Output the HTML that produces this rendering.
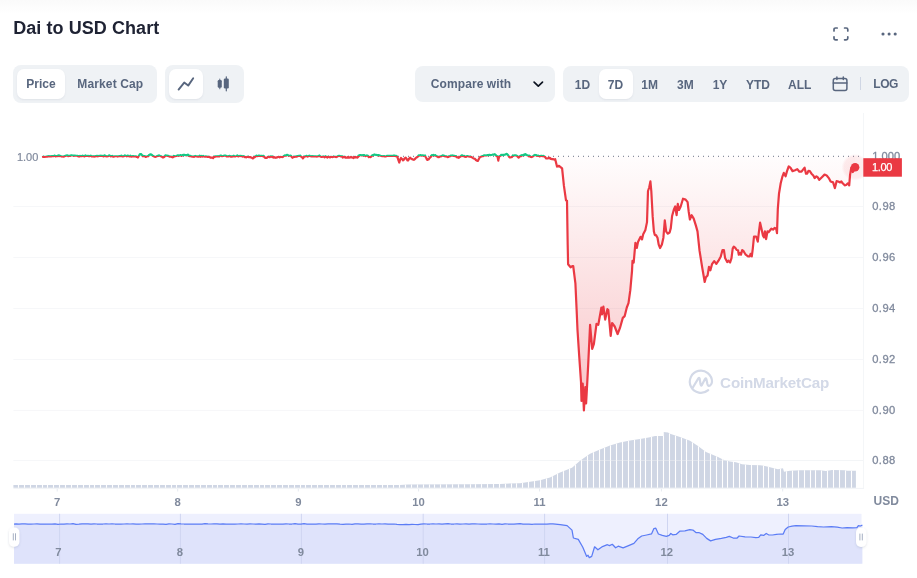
<!DOCTYPE html>
<html lang="en">
<head>
<meta charset="utf-8">
<title>Dai to USD Chart</title>
<style>
*{box-sizing:border-box}
html,body{margin:0;padding:0;background:#fff}
body{width:917px;height:578px;position:relative;overflow:hidden;will-change:transform;font-family:"Liberation Sans",sans-serif;color:#58667e}
.topfade{position:absolute;left:0;top:0;width:917px;height:14px;background:linear-gradient(#fafafa,#fff)}
h2{position:absolute;left:13.2px;top:17px;margin:0;font-size:18px;line-height:22px;font-weight:700;color:#1e2233;letter-spacing:0.07px;white-space:nowrap}
.grp{position:absolute;background:#eff2f5;border-radius:8px}
.btn{position:absolute;top:4px;height:30px;border-radius:7px;font-size:12px;font-weight:700;line-height:30px;text-align:center;white-space:nowrap;color:#58667e}
.btn.on{background:#fff;box-shadow:0 1px 2px rgba(88,102,126,.10)}
.t{position:absolute;font-size:12px;font-weight:700;line-height:14px;white-space:nowrap;color:#58667e;transform:translateX(-50%)}
svg.ico{position:absolute;overflow:visible}
svg.chart{position:absolute;left:0;top:0}
svg text{font-family:"Liberation Sans",sans-serif}
</style>
</head>
<body>
<div class="topfade"></div>
<h2>Dai to USD Chart</h2>

<svg class="ico" style="left:833px;top:27px" width="16" height="14" viewBox="0 0 16 14" fill="none" stroke="#58667e" stroke-width="1.7" stroke-linecap="round" stroke-linejoin="round"><path d="M1 4V2.6Q1 1 2.6 1H4.2M11.6 1H13.2Q14.8 1 14.8 2.6V4M14.8 9.8V11.2Q14.8 12.8 13.2 12.8H11.6M4.2 12.8H2.6Q1 12.8 1 11.2V9.8"/></svg>
<svg class="ico" style="left:881px;top:32px" width="16" height="4" viewBox="0 0 16 4" fill="#58667e"><circle cx="2" cy="2" r="1.55"/><circle cx="8.1" cy="2" r="1.55"/><circle cx="14.2" cy="2" r="1.55"/></svg>

<div class="grp" style="left:13.3px;top:65.3px;width:143.4px;height:37.6px">
  <div class="btn on" style="left:3.9px;width:47.6px;top:3.9px">Price</div>
  <div class="btn" style="left:56px;width:82px;top:3.9px;letter-spacing:.12px">Market Cap</div>
</div>
<div class="grp" style="left:165px;top:65.3px;width:78.8px;height:37.6px">
  <div class="btn on" style="left:3.8px;width:34.2px;top:3.9px"></div>
  <svg class="ico" style="left:0;top:0" width="79" height="38" viewBox="0 0 79 38"><path d="M13.6 24.6L19.2 17.6L23.2 20.6L28.2 13.2" fill="none" stroke="#58667e" stroke-width="1.9" stroke-linecap="round" stroke-linejoin="round"/>
  <g fill="#58667e"><rect x="52.7" y="15.1" width="4.1" height="7.7" rx="1.2"/><rect x="54.3" y="13.4" width="1" height="10.8" rx=".5"/><rect x="58.8" y="13.4" width="5" height="10.2" rx="1.3"/><rect x="60.7" y="11.2" width="1.2" height="15.2" rx=".6"/></g></svg>
</div>

<div class="grp" style="left:415px;top:66.3px;width:139.6px;height:35.5px">
  <span class="t" style="left:56px;top:11px;letter-spacing:.09px">Compare with</span>
  <svg class="ico" style="left:117.6px;top:14.4px" width="11" height="7" viewBox="0 0 11 7" fill="none" stroke="#0d1421" stroke-width="1.7" stroke-linecap="round" stroke-linejoin="round"><path d="M1.1 1.1L5.3 5.1L9.5 1.1"/></svg>
</div>

<div class="grp" style="left:563px;top:66.3px;width:346px;height:35.5px">
  <div class="btn on" style="left:36.2px;width:33.6px;top:2.9px"></div>
  <span class="t" style="left:19.5px;top:12px">1D</span>
  <span class="t" style="left:52.4px;top:12px">7D</span>
  <span class="t" style="left:86.6px;top:12px">1M</span>
  <span class="t" style="left:122.4px;top:12px">3M</span>
  <span class="t" style="left:157px;top:12px">1Y</span>
  <span class="t" style="left:194.9px;top:12px">YTD</span>
  <span class="t" style="left:236.7px;top:12px">ALL</span>
  <svg class="ico" style="left:269px;top:10px" width="17" height="16" viewBox="0 0 17 16" fill="none" stroke="#58667e" stroke-width="1.5" stroke-linecap="round" stroke-linejoin="round"><rect x="1.3" y="2.6" width="13.6" height="12" rx="2"/><path d="M1.3 6.9H14.9M4.9 0.9V3.6M11.3 0.9V3.6"/></svg>
  <div style="position:absolute;left:296.8px;top:10.8px;width:1px;height:12.6px;background:#cfd6e4"></div>
  <span class="t" style="left:322.6px;top:10.6px;letter-spacing:-.5px">LOG</span>
</div>

<svg class="chart" width="917" height="578" viewBox="0 0 917 578">
<defs>
<linearGradient id="rg" gradientUnits="userSpaceOnUse" x1="0" y1="156" x2="0" y2="412"><stop offset="0" stop-color="#ea3943" stop-opacity="0.01"/><stop offset="1" stop-color="#ea3943" stop-opacity="0.30"/></linearGradient>
<clipPath id="up"><rect x="0" y="100" width="917" height="56.1"/></clipPath>
<clipPath id="dn"><rect x="0" y="156.1" width="917" height="300"/></clipPath>
<clipPath id="plot"><rect x="13" y="113" width="850.5" height="376"/></clipPath>
<radialGradient id="halo"><stop offset="0" stop-color="#ea3943" stop-opacity="0.11"/><stop offset="0.8" stop-color="#ea3943" stop-opacity="0.09"/><stop offset="1" stop-color="#ea3943" stop-opacity="0"/></radialGradient>
</defs>
<line x1="13.4" x2="863.5" y1="206.5" y2="206.5" stroke="#f6f7f9" stroke-width="1"/>
<line x1="13.4" x2="863.5" y1="257.5" y2="257.5" stroke="#f6f7f9" stroke-width="1"/>
<line x1="13.4" x2="863.5" y1="308.5" y2="308.5" stroke="#f6f7f9" stroke-width="1"/>
<line x1="13.4" x2="863.5" y1="359.5" y2="359.5" stroke="#f6f7f9" stroke-width="1"/>
<line x1="13.4" x2="863.5" y1="410.4" y2="410.4" stroke="#f6f7f9" stroke-width="1"/>
<line x1="13.4" x2="863.5" y1="460.5" y2="460.5" stroke="#f6f7f9" stroke-width="1"/>
<line x1="863.45" x2="863.45" y1="113" y2="488.5" stroke="#f4f6f8" stroke-width="1"/>
<line x1="13.4" x2="864" y1="488.4" y2="488.4" stroke="#f1f3f6" stroke-width="1"/>
<line x1="57.2" x2="57.2" y1="488.8" y2="491.5" stroke="#e6eaf0" stroke-width="1"/>
<line x1="177.7" x2="177.7" y1="488.8" y2="491.5" stroke="#e6eaf0" stroke-width="1"/>
<line x1="298.3" x2="298.3" y1="488.8" y2="491.5" stroke="#e6eaf0" stroke-width="1"/>
<line x1="418.6" x2="418.6" y1="488.8" y2="491.5" stroke="#e6eaf0" stroke-width="1"/>
<line x1="539.6" x2="539.6" y1="488.8" y2="491.5" stroke="#e6eaf0" stroke-width="1"/>
<line x1="661.4" x2="661.4" y1="488.8" y2="491.5" stroke="#e6eaf0" stroke-width="1"/>
<line x1="782.7" x2="782.7" y1="488.8" y2="491.5" stroke="#e6eaf0" stroke-width="1"/>
<g fill="none" stroke="#d3d9e7" stroke-width="2.2" stroke-linecap="round" stroke-linejoin="round">
<path d="M692.7 387.7 L698.2 378.6 Q699.2 377 699.7 378.8 L700.6 384.6 Q701 386.4 702 384.8 L705 379 Q706 377.4 706.4 379.2 L707.4 384 Q708.2 387 710.2 385.4 Q712 383.8 712 381.8 A11.1 11.1 0 1 0 708.2 390.1"/>
</g>
<text x="720.1" y="388" font-size="15.2" font-weight="700" fill="#d3d9e7" letter-spacing="-0.18">CoinMarketCap</text>
<path d="M13.4 487.8 L13.4 485.1 L300 485.1 L400 485.0 L408 484.5 L470 484.3 L500 483.9 L520 483.2 L540 480.3 L550 477.5 L560 472.5 L572 467.8 L580 460.8 L590 453.8 L600 449.4 L610 445.6 L620 442.5 L630 440.4 L640 439 L650 437.2 L655 436 L663.2 436 L663.3 432 L668 432.6 L670 433.7 L680 436.9 L690 440.7 L698 446 L706 452 L712 454.4 L718 457 L724 460 L730 461.5 L736 462.3 L742 464.3 L750 465 L760 465.2 L766 466.2 L772 467.8 L778 469.2 L783 468.2 L784 471.7 L790 470.8 L800 470.3 L820 470.3 L826 471 L832 470 L845 470.2 L847 470.8 L855.9 470.8 L855.9 487.8 Z" fill="#cfd6e4"/>
<clipPath id="vc"><path d="M13.4 487.8 L13.4 485.1 L300 485.1 L400 485.0 L408 484.5 L470 484.3 L500 483.9 L520 483.2 L540 480.3 L550 477.5 L560 472.5 L572 467.8 L580 460.8 L590 453.8 L600 449.4 L610 445.6 L620 442.5 L630 440.4 L640 439 L650 437.2 L655 436 L663.2 436 L663.3 432 L668 432.6 L670 433.7 L680 436.9 L690 440.7 L698 446 L706 452 L712 454.4 L718 457 L724 460 L730 461.5 L736 462.3 L742 464.3 L750 465 L760 465.2 L766 466.2 L772 467.8 L778 469.2 L783 468.2 L784 471.7 L790 470.8 L800 470.3 L820 470.3 L826 471 L832 470 L845 470.2 L847 470.8 L855.9 470.8 L855.9 487.8 Z"/></clipPath><path d="M18.5 430V488M24.5 430V488M30.5 430V488M36.5 430V488M42.5 430V488M47.5 430V488M53.5 430V488M59.5 430V488M65.5 430V488M71.5 430V488M77.5 430V488M83.5 430V488M89.5 430V488M94.5 430V488M100.5 430V488M106.5 430V488M112.5 430V488M118.5 430V488M124.5 430V488M130.5 430V488M135.5 430V488M141.5 430V488M147.5 430V488M153.5 430V488M159.5 430V488M165.5 430V488M171.5 430V488M176.5 430V488M182.5 430V488M188.5 430V488M194.5 430V488M200.5 430V488M206.5 430V488M212.5 430V488M217.5 430V488M223.5 430V488M229.5 430V488M235.5 430V488M241.5 430V488M247.5 430V488M253.5 430V488M259.5 430V488M264.5 430V488M270.5 430V488M276.5 430V488M282.5 430V488M288.5 430V488M294.5 430V488M300.5 430V488M305.5 430V488M311.5 430V488M317.5 430V488M323.5 430V488M329.5 430V488M335.5 430V488M341.5 430V488M346.5 430V488M352.5 430V488M358.5 430V488M364.5 430V488M370.5 430V488M376.5 430V488M382.5 430V488M387.5 430V488M393.5 430V488M399.5 430V488M405.5 430V488M411.5 430V488M417.5 430V488M423.5 430V488M429.5 430V488M434.5 430V488M440.5 430V488M446.5 430V488M452.5 430V488M458.5 430V488M464.5 430V488M470.5 430V488M475.5 430V488M481.5 430V488M487.5 430V488M493.5 430V488M499.5 430V488M505.5 430V488M511.5 430V488M516.5 430V488M522.5 430V488M528.5 430V488M534.5 430V488M540.5 430V488M546.5 430V488M552.5 430V488M557.5 430V488M563.5 430V488M569.5 430V488M575.5 430V488M581.5 430V488M587.5 430V488M593.5 430V488M599.5 430V488M604.5 430V488M610.5 430V488M616.5 430V488M622.5 430V488M628.5 430V488M634.5 430V488M640.5 430V488M645.5 430V488M651.5 430V488M657.5 430V488M663.5 430V488M669.5 430V488M675.5 430V488M681.5 430V488M686.5 430V488M692.5 430V488M698.5 430V488M704.5 430V488M710.5 430V488M716.5 430V488M722.5 430V488M727.5 430V488M733.5 430V488M739.5 430V488M745.5 430V488M751.5 430V488M757.5 430V488M763.5 430V488M768.5 430V488M774.5 430V488M780.5 430V488M786.5 430V488M792.5 430V488M798.5 430V488M804.5 430V488M810.5 430V488M815.5 430V488M821.5 430V488M827.5 430V488M833.5 430V488M839.5 430V488M845.5 430V488M851.5 430V488" stroke="#fff" stroke-width="1.1" fill="none" clip-path="url(#vc)"/>
<line x1="540" x2="863" y1="460.5" y2="460.5" stroke="#eff2f5" stroke-width="1" stroke-opacity="0.45"/>
<line x1="43" x2="860.5" y1="156.3" y2="156.3" stroke="#6b7587" stroke-width="1" stroke-dasharray="1 4"/>
<path d="M43.0 156.8 L43.9 156.72 L44.8 156.95 L45.7 156.73 L46.6 156.71 L47.0 156.8 L47.5 156.35 L48.4 156.25 L49.0 156.1 L49.3 156.43 L50.2 156.22 L51.1 156.39 L52.0 156.14 L52.9 156.18 L53.8 156.11 L54.7 155.54 L55.6 156.29 L56.5 156.18 L57.4 156.17 L58.3 155.5 L59.0 156.0 L59.2 155.51 L60.1 155.92 L61.0 156.19 L61.9 156.57 L62.0 156.5 L62.8 156.49 L63.7 156.66 L64.0 156.5 L64.6 156.04 L65.5 155.92 L66.0 155.6 L66.4 155.72 L67.3 155.4 L68.2 156.12 L69.1 155.77 L70.0 155.96 L70.9 155.41 L71.8 155.38 L72.7 155.5 L73.6 155.57 L74.5 155.79 L75.0 155.6 L75.4 155.75 L76.3 155.73 L77.2 155.75 L78.0 156.2 L78.1 156.04 L79.0 156.54 L79.9 155.91 L80.8 156.2 L81.7 156.24 L82.6 155.64 L83.5 156.08 L84.4 156.43 L85.3 155.41 L86.0 156.0 L86.2 155.91 L87.1 155.99 L88.0 155.8 L88.9 156.21 L89.8 156.07 L90.7 155.67 L91.6 156.37 L92.5 156.35 L93.4 156.45 L94.3 156.62 L95.0 156.2 L95.2 156.3 L96.1 156.21 L97.0 155.77 L97.9 156.33 L98.8 155.94 L99.7 155.97 L100.6 155.71 L101.5 155.78 L102.4 155.89 L103.3 156.42 L104.2 155.41 L105.0 156.0 L105.1 155.57 L106.0 156.11 L106.9 156.51 L107.8 156.29 L108.7 155.59 L109.6 155.44 L110.5 156.34 L111.4 156.05 L112.0 156.3 L112.3 155.95 L113.2 156.55 L114.1 156.55 L115.0 156.23 L115.9 156.23 L116.8 156.25 L117.7 156.56 L118.6 156.24 L119.5 156.17 L120.0 156.0 L120.4 156.17 L121.3 155.54 L122.2 156.41 L123.1 156.32 L124.0 156.2 L124.9 155.46 L125.8 155.87 L126.7 156.32 L127.6 155.53 L128.5 156.03 L129.4 156.4 L130.0 156.1 L130.3 155.72 L131.2 156.62 L132.1 156.34 L133.0 156.15 L133.9 156.33 L134.8 156.45 L135.7 156.33 L136.0 156.3 L136.6 157.02 L137.5 157.05 L137.9 157.5 L138.4 156.47 L139.0 155.5 L139.3 155.36 L140.0 154.0 L140.2 154.07 L141.1 154.1 L141.5 154.5 L142.0 155.25 L142.9 156.25 L143.0 155.9 L143.8 156.08 L144.7 156.15 L145.6 156.88 L145.8 157.0 L146.5 156.64 L147.4 156.18 L148.0 156.0 L148.3 156.19 L149.2 154.76 L150.1 154.76 L150.2 154.3 L151.0 154.32 L151.9 154.91 L152.0 155.2 L152.8 155.75 L153.7 156.29 L154.6 156.61 L155.5 156.86 L155.6 156.8 L156.4 156.48 L157.3 156.07 L158.2 155.79 L158.9 155.3 L159.1 155.33 L160.0 155.85 L160.9 156.33 L161.0 156.2 L161.8 156.62 L162.7 157.32 L163.3 157.4 L163.6 157.27 L164.5 156.8 L165.4 155.3 L166.3 155.64 L167.2 155.66 L168.0 156.0 L168.1 155.91 L169.0 156.23 L169.9 156.72 L170.8 156.56 L171.4 156.8 L171.7 156.92 L172.6 157.35 L173.5 156.03 L173.6 156.8 L174.4 156.17 L175.3 156.25 L176.2 155.97 L176.9 155.6 L177.1 155.65 L178.0 155.35 L178.9 155.58 L179.8 155.37 L180.7 155.03 L181.6 155.82 L182.5 155.1 L183.4 154.9 L184.3 154.85 L185.2 155.1 L186.1 155.18 L187.0 155.34 L187.9 154.65 L188.8 155.44 L188.9 155.6 L189.7 156.21 L190.6 155.9 L191.0 156.4 L191.5 156.38 L192.4 156.69 L193.3 156.66 L194.2 156.85 L195.1 155.89 L196.0 156.29 L196.9 156.3 L197.8 156.59 L198.7 156.73 L199.6 155.6 L200.5 156.73 L201.4 155.97 L202.3 156.6 L203.2 155.95 L204.1 156.45 L205.0 156.76 L205.9 156.36 L206.0 156.4 L206.8 156.56 L207.7 156.87 L208.6 156.79 L209.0 156.8 L209.5 156.89 L210.4 157.6 L211.3 157.67 L212.2 157.49 L212.3 157.6 L213.1 158.1 L214.0 156.56 L214.9 156.82 L215.0 156.5 L215.8 156.34 L216.7 156.37 L217.6 156.45 L218.0 156.2 L218.5 156.25 L219.4 156.34 L220.3 155.65 L221.2 155.62 L222.1 156.22 L223.0 156.0 L223.9 155.71 L224.8 155.69 L225.7 155.56 L226.6 156.38 L227.5 156.22 L228.4 156.44 L229.0 156.0 L229.3 155.81 L230.2 156.36 L231.0 156.6 L231.1 156.23 L232.0 156.53 L232.9 156.51 L233.0 156.0 L233.8 155.73 L234.7 156.47 L235.6 156.3 L236.5 155.95 L237.4 155.41 L238.3 156.42 L239.2 155.97 L240.1 155.82 L241.0 156.12 L241.9 156.12 L242.0 156.0 L242.8 156.66 L243.7 156.15 L244.6 157.03 L245.0 156.8 L245.5 157.27 L246.4 157.29 L247.3 156.84 L248.2 156.7 L249.1 157.27 L250.0 157.0 L250.9 157.36 L251.8 157.69 L252.7 158.41 L253.3 158.2 L253.6 157.91 L254.5 156.66 L255.0 157.0 L255.4 156.64 L256.3 155.66 L257.0 155.8 L257.2 156.05 L258.1 155.9 L259.0 155.62 L259.9 155.8 L260.8 156.05 L261.7 155.82 L262.6 156.2 L263.5 155.78 L263.6 155.8 L264.4 157.05 L265.3 157.8 L266.2 157.95 L267.1 157.68 L268.0 156.9 L268.9 156.72 L269.8 157.21 L270.7 156.4 L271.6 156.66 L272.0 157.0 L272.5 156.52 L273.4 157.63 L274.3 157.14 L275.2 157.71 L275.6 157.8 L276.1 157.61 L277.0 157.42 L277.9 157.01 L278.8 157.02 L279.0 156.9 L279.7 157.42 L280.6 156.87 L281.5 157.0 L282.4 157.12 L283.0 156.8 L283.3 156.57 L284.2 155.72 L285.1 155.41 L285.4 155.4 L286.0 155.68 L286.9 154.79 L287.8 155.04 L288.0 155.2 L288.7 155.64 L289.6 155.76 L290.5 155.7 L291.0 155.8 L291.4 156.57 L292.3 157.58 L292.5 157.8 L293.2 157.17 L294.1 156.69 L295.0 156.8 L295.9 156.4 L296.8 156.67 L297.7 156.01 L298.5 156.0 L298.6 155.74 L299.5 155.86 L300.4 155.71 L300.7 156.2 L301.3 156.76 L302.2 157.35 L302.9 158.4 L303.1 158.32 L304.0 156.64 L304.9 156.59 L305.0 156.4 L305.8 156.19 L306.7 155.78 L307.6 156.57 L308.5 156.25 L309.4 155.64 L310.3 156.03 L311.2 156.36 L312.1 156.12 L313.0 156.47 L313.9 156.45 L314.8 156.4 L315.7 156.28 L316.6 156.57 L317.5 156.35 L318.4 156.27 L319.3 155.49 L320.0 156.1 L320.2 156.44 L321.1 156.88 L322.0 156.8 L322.9 156.71 L323.8 156.66 L324.7 157.38 L325.6 156.27 L326.5 156.94 L327.4 157.53 L328.3 156.52 L329.2 157.01 L330.1 157.37 L331.0 156.76 L331.9 156.97 L332.8 157.07 L333.7 156.53 L334.6 156.77 L335.5 156.89 L336.4 157.05 L337.0 156.8 L337.3 156.58 L338.0 156.1 L338.2 156.05 L339.1 155.82 L340.0 156.04 L340.9 156.44 L341.8 156.23 L342.0 156.2 L342.7 157.6 L343.6 157.03 L344.5 156.72 L345.0 156.8 L345.4 157.71 L346.3 157.51 L347.2 157.61 L348.1 156.89 L348.2 157.7 L349.0 157.66 L349.9 157.36 L350.8 157.46 L351.0 156.9 L351.7 157.32 L352.6 157.56 L353.5 158.11 L353.6 158.0 L354.4 157.0 L355.3 157.42 L355.5 157.0 L356.2 157.32 L357.1 157.29 L357.4 157.6 L358.0 156.91 L358.5 155.6 L358.9 156.1 L359.8 155.03 L360.7 155.15 L361.6 155.33 L362.0 155.2 L362.5 155.3 L363.4 155.2 L364.3 155.1 L365.2 156.11 L366.1 155.86 L366.7 155.6 L367.0 155.39 L367.9 155.77 L368.8 157.12 L369.0 156.7 L369.7 156.93 L370.6 157.09 L371.0 156.5 L371.5 156.34 L372.4 155.12 L372.5 155.3 L373.3 155.29 L374.2 154.46 L375.1 154.78 L376.0 154.9 L376.9 155.02 L377.8 155.34 L378.7 155.11 L379.6 155.43 L379.8 155.5 L380.5 155.79 L381.4 155.96 L382.3 156.24 L383.0 156.2 L383.2 156.27 L384.1 156.14 L385.0 156.5 L385.9 156.31 L386.0 156.3 L386.8 155.92 L387.7 155.84 L388.5 155.9 L388.6 155.9 L389.5 155.85 L390.4 155.92 L391.3 155.86 L392.2 155.9 L393.1 155.8 L394.0 155.45 L394.9 155.94 L395.8 156.12 L396.0 155.8 L396.7 156.34 L397.2 156.5 L397.6 157.59 L398.5 160.35 L399.3 162.5 L399.4 161.95 L400.3 159.28 L401.0 158.0 L401.2 158.25 L402.1 158.99 L403.0 160.3 L403.9 159.58 L404.8 158.09 L405.2 158.0 L405.7 157.63 L406.6 158.85 L407.5 160.38 L408.1 160.4 L408.4 159.87 L409.3 158.35 L410.0 157.8 L410.2 157.69 L411.1 158.61 L412.0 159.13 L412.7 159.4 L412.9 159.44 L413.8 159.78 L414.5 159.3 L414.7 159.31 L415.6 158.19 L416.3 157.5 L416.5 157.5 L417.4 156.99 L418.3 155.97 L418.6 155.4 L419.2 155.71 L420.1 155.08 L421.0 155.36 L421.9 155.62 L422.8 155.31 L423.7 155.72 L424.6 155.58 L425.0 155.4 L425.5 156.73 L426.4 158.29 L426.8 159.2 L427.3 159.96 L428.2 159.57 L428.8 159.2 L429.1 158.7 L430.0 157.48 L430.9 156.92 L431.0 156.0 L431.7 155.3 L431.8 155.18 L432.7 155.4 L433.5 155.0 L433.6 155.32 L434.5 155.29 L435.4 155.19 L435.6 155.6 L436.3 155.99 L437.2 156.48 L438.1 157.15 L438.5 157.0 L439.0 157.05 L439.9 156.49 L440.8 156.4 L441.7 155.97 L442.6 155.54 L442.8 155.4 L443.5 155.67 L444.4 155.91 L445.3 156.52 L446.2 156.33 L447.1 156.79 L447.7 157.2 L448.0 157.09 L448.9 156.33 L449.8 156.31 L450.7 155.52 L451.6 155.59 L452.5 155.64 L452.7 155.4 L453.4 155.8 L454.3 155.92 L455.2 156.16 L456.0 156.5 L456.1 156.11 L457.0 157.42 L457.9 157.35 L458.8 157.85 L459.0 157.6 L459.7 156.87 L460.6 156.48 L461.5 155.39 L462.3 155.4 L462.4 155.68 L463.3 156.18 L464.2 155.78 L464.7 156.6 L465.1 156.6 L466.0 156.85 L466.9 156.18 L467.8 156.2 L468.7 156.47 L469.6 156.64 L470.5 156.46 L471.0 156.9 L471.4 157.1 L472.3 157.59 L473.2 158.14 L474.1 158.58 L475.0 158.8 L475.9 159.96 L476.8 160.56 L477.7 160.53 L477.8 161.0 L478.6 159.44 L479.5 157.69 L479.9 157.3 L480.4 156.73 L481.3 156.58 L482.2 156.15 L482.5 156.0 L483.1 156.06 L484.0 155.31 L484.9 155.28 L485.8 155.51 L486.7 155.33 L487.6 155.16 L488.0 155.2 L488.5 155.13 L489.4 154.83 L490.3 155.17 L491.2 154.98 L492.1 154.75 L493.0 154.48 L493.8 154.6 L493.9 154.59 L494.8 154.19 L495.7 155.08 L496.0 155.5 L496.6 155.91 L497.5 156.5 L498.3 160.6 L498.4 159.69 L499.2 156.5 L499.3 156.5 L500.2 155.93 L501.0 155.4 L501.1 154.96 L502.0 155.09 L502.9 154.86 L503.8 154.88 L504.7 154.72 L505.6 154.32 L506.5 153.86 L507.0 154.0 L507.4 154.42 L508.3 155.5 L509.2 156.95 L509.4 157.3 L510.1 157.44 L511.0 157.2 L511.9 156.79 L512.0 157.0 L512.8 155.47 L513.0 155.6 L513.7 155.49 L514.6 155.38 L515.5 155.27 L516.4 155.57 L516.5 155.6 L517.3 156.21 L518.2 157.25 L518.6 157.6 L519.1 157.28 L520.0 156.14 L520.7 155.6 L520.9 156.24 L521.8 155.2 L522.7 155.37 L523.6 154.83 L524.3 154.6 L524.5 154.98 L525.4 154.11 L526.3 154.78 L527.2 155.27 L528.1 155.56 L529.0 156.26 L529.2 155.6 L529.9 156.14 L530.8 157.0 L531.4 157.0 L531.7 157.05 L532.6 156.56 L533.5 155.89 L534.4 155.15 L534.9 154.9 L535.3 155.18 L536.2 154.99 L537.1 155.96 L537.7 155.8 L538.0 155.5 L538.9 155.9 L539.8 156.47 L540.7 155.79 L541.6 155.87 L542.5 156.23 L543.4 155.9 L544.3 156.49 L544.8 156.8 L545.2 157.04 L546.1 158.46 L546.2 158.5 L547.0 158.52 L547.9 158.38 L548.8 157.76 L549.7 158.35 L549.8 157.8 L550.6 158.81 L551.5 158.89 L552.0 159.2 L552.4 159.28 L553.3 159.07 L554.2 159.62 L555.2 159.2 L557 166.6 L559 165.8 L562.1 168.4 L563.9 185.7 L566 200.4 L567 200.7 L567.7 245 L568.1 264.2 L570.6 267.3 L572.3 266 L573.2 266 L575.4 283.3 L576.6 309.2 L577.5 330 L579.2 356 L581 381.9 L581.5 400.9 L582.7 383.6 L583.9 410.4 L585.3 387.1 L586.1 403.5 L587 387.1 L588.2 364.6 L590.1 324.8 L592.2 349 L593.9 343.8 L596.5 323.9 L598.3 324.8 L601.4 307.5 L602 314.4 L603.4 306.6 L605.2 319.6 L607.4 309.2 L608.3 310 L610.7 336 L612.1 323 L614.7 326.5 L617.6 334 L619.9 328.2 L622.8 317.9 L624.7 316.1 L626.8 307.5 L628.5 303.1 L630.3 290.2 L632 271.1 L632.5 260.8 L633.7 262.5 L635.4 242.9 L636.8 248 L638 242 L640.6 236.8 L642 239.4 L643.2 234.2 L645.4 229.9 L647 222.1 L648 191 L649.2 187.5 L650.4 181.4 L651.3 191 L652.7 216.9 L653.9 231.6 L654.8 235.1 L656 235.1 L657.5 237.7 L658.7 244.6 L660.1 248 L661.9 244.6 L663.4 237.7 L664.8 220.4 L666.2 231.6 L667.9 233.7 L669.6 232.5 L670.8 228.1 L672.1 216 L674 209.1 L675.2 206.5 L676.6 215.2 L677.8 203.9 L679 210 L680.7 206.5 L683 198.7 L685.6 199.6 L687.6 202.2 L688.7 211.7 L689.9 219.5 L691.6 215.2 L693.7 218.6 L695.9 225.6 L697.5 231.4 L699.5 250.4 L702.1 266.8 L704.7 282 L705.9 277.2 L707.6 275.4 L709 266.8 L710.4 270.3 L712 264.2 L714.2 261.1 L716.3 263.9 L718.5 260.7 L720.8 256.4 L722.5 250 L723.9 250 L725.1 258.1 L727.2 262.1 L728.4 260.7 L730.1 262.5 L731.5 258.1 L732.7 248.6 L733.8 246.6 L735.3 247.8 L736.7 250 L738 250.3 L738.8 254.7 L740.2 253 L741 254.7 L742.2 250 L743.6 251.2 L745.7 254.7 L748 256.4 L749.7 256.4 L750.6 253.8 L751.8 256.4 L752.8 248.6 L754 236.5 L756.1 236.5 L757.8 241.7 L758.9 232.2 L760.1 222.7 L761.3 227.9 L763 235.7 L764 237.4 L764.9 231.3 L766.1 239.1 L767.5 231.3 L768.7 232.2 L769.9 230.5 L771.3 228.7 L773 229.6 L774.8 227.9 L776.2 228.7 L777 233.1 L777.8 209.2 L779 193.6 L780.7 183.3 L782.5 176.3 L783.8 172.9 L785.6 176.3 L787 171.1 L788.7 166.5 L790.4 167.7 L792.5 171.1 L795.1 170.3 L797.3 169.1 L799.4 171.7 L801.5 171.7 L803.2 169.4 L804.6 167.7 L806 173.7 L807.2 173.7 L808.4 170.8 L809.8 171.1 L811.5 173.7 L813.3 175.5 L814.6 178.1 L816.4 176.3 L817.6 177.2 L819.3 179.8 L821.9 177.2 L824.5 174.6 L826.7 175.5 L828.8 178.1 L830.6 181.5 L833.1 182.4 L834.9 188.1 L836.6 181.2 L838.3 181.5 L840.1 182.4 L841.3 181.5 L842.7 183.3 L844.7 185.3 L846.1 185 L847.9 183.3 L849.2 185.3 L850.1 174.6 L851.3 167.7 L852.7 172 L853.9 170.3 L855.1 167.7 L855.1 156.1 L43 156.1 Z" fill="url(#rg)" clip-path="url(#dn)"/>
<path d="M43.0 156.8 L43.9 156.72 L44.8 156.95 L45.7 156.73 L46.6 156.71 L47.0 156.8 L47.5 156.35 L48.4 156.25 L49.0 156.1 L49.3 156.43 L50.2 156.22 L51.1 156.39 L52.0 156.14 L52.9 156.18 L53.8 156.11 L54.7 155.54 L55.6 156.29 L56.5 156.18 L57.4 156.17 L58.3 155.5 L59.0 156.0 L59.2 155.51 L60.1 155.92 L61.0 156.19 L61.9 156.57 L62.0 156.5 L62.8 156.49 L63.7 156.66 L64.0 156.5 L64.6 156.04 L65.5 155.92 L66.0 155.6 L66.4 155.72 L67.3 155.4 L68.2 156.12 L69.1 155.77 L70.0 155.96 L70.9 155.41 L71.8 155.38 L72.7 155.5 L73.6 155.57 L74.5 155.79 L75.0 155.6 L75.4 155.75 L76.3 155.73 L77.2 155.75 L78.0 156.2 L78.1 156.04 L79.0 156.54 L79.9 155.91 L80.8 156.2 L81.7 156.24 L82.6 155.64 L83.5 156.08 L84.4 156.43 L85.3 155.41 L86.0 156.0 L86.2 155.91 L87.1 155.99 L88.0 155.8 L88.9 156.21 L89.8 156.07 L90.7 155.67 L91.6 156.37 L92.5 156.35 L93.4 156.45 L94.3 156.62 L95.0 156.2 L95.2 156.3 L96.1 156.21 L97.0 155.77 L97.9 156.33 L98.8 155.94 L99.7 155.97 L100.6 155.71 L101.5 155.78 L102.4 155.89 L103.3 156.42 L104.2 155.41 L105.0 156.0 L105.1 155.57 L106.0 156.11 L106.9 156.51 L107.8 156.29 L108.7 155.59 L109.6 155.44 L110.5 156.34 L111.4 156.05 L112.0 156.3 L112.3 155.95 L113.2 156.55 L114.1 156.55 L115.0 156.23 L115.9 156.23 L116.8 156.25 L117.7 156.56 L118.6 156.24 L119.5 156.17 L120.0 156.0 L120.4 156.17 L121.3 155.54 L122.2 156.41 L123.1 156.32 L124.0 156.2 L124.9 155.46 L125.8 155.87 L126.7 156.32 L127.6 155.53 L128.5 156.03 L129.4 156.4 L130.0 156.1 L130.3 155.72 L131.2 156.62 L132.1 156.34 L133.0 156.15 L133.9 156.33 L134.8 156.45 L135.7 156.33 L136.0 156.3 L136.6 157.02 L137.5 157.05 L137.9 157.5 L138.4 156.47 L139.0 155.5 L139.3 155.36 L140.0 154.0 L140.2 154.07 L141.1 154.1 L141.5 154.5 L142.0 155.25 L142.9 156.25 L143.0 155.9 L143.8 156.08 L144.7 156.15 L145.6 156.88 L145.8 157.0 L146.5 156.64 L147.4 156.18 L148.0 156.0 L148.3 156.19 L149.2 154.76 L150.1 154.76 L150.2 154.3 L151.0 154.32 L151.9 154.91 L152.0 155.2 L152.8 155.75 L153.7 156.29 L154.6 156.61 L155.5 156.86 L155.6 156.8 L156.4 156.48 L157.3 156.07 L158.2 155.79 L158.9 155.3 L159.1 155.33 L160.0 155.85 L160.9 156.33 L161.0 156.2 L161.8 156.62 L162.7 157.32 L163.3 157.4 L163.6 157.27 L164.5 156.8 L165.4 155.3 L166.3 155.64 L167.2 155.66 L168.0 156.0 L168.1 155.91 L169.0 156.23 L169.9 156.72 L170.8 156.56 L171.4 156.8 L171.7 156.92 L172.6 157.35 L173.5 156.03 L173.6 156.8 L174.4 156.17 L175.3 156.25 L176.2 155.97 L176.9 155.6 L177.1 155.65 L178.0 155.35 L178.9 155.58 L179.8 155.37 L180.7 155.03 L181.6 155.82 L182.5 155.1 L183.4 154.9 L184.3 154.85 L185.2 155.1 L186.1 155.18 L187.0 155.34 L187.9 154.65 L188.8 155.44 L188.9 155.6 L189.7 156.21 L190.6 155.9 L191.0 156.4 L191.5 156.38 L192.4 156.69 L193.3 156.66 L194.2 156.85 L195.1 155.89 L196.0 156.29 L196.9 156.3 L197.8 156.59 L198.7 156.73 L199.6 155.6 L200.5 156.73 L201.4 155.97 L202.3 156.6 L203.2 155.95 L204.1 156.45 L205.0 156.76 L205.9 156.36 L206.0 156.4 L206.8 156.56 L207.7 156.87 L208.6 156.79 L209.0 156.8 L209.5 156.89 L210.4 157.6 L211.3 157.67 L212.2 157.49 L212.3 157.6 L213.1 158.1 L214.0 156.56 L214.9 156.82 L215.0 156.5 L215.8 156.34 L216.7 156.37 L217.6 156.45 L218.0 156.2 L218.5 156.25 L219.4 156.34 L220.3 155.65 L221.2 155.62 L222.1 156.22 L223.0 156.0 L223.9 155.71 L224.8 155.69 L225.7 155.56 L226.6 156.38 L227.5 156.22 L228.4 156.44 L229.0 156.0 L229.3 155.81 L230.2 156.36 L231.0 156.6 L231.1 156.23 L232.0 156.53 L232.9 156.51 L233.0 156.0 L233.8 155.73 L234.7 156.47 L235.6 156.3 L236.5 155.95 L237.4 155.41 L238.3 156.42 L239.2 155.97 L240.1 155.82 L241.0 156.12 L241.9 156.12 L242.0 156.0 L242.8 156.66 L243.7 156.15 L244.6 157.03 L245.0 156.8 L245.5 157.27 L246.4 157.29 L247.3 156.84 L248.2 156.7 L249.1 157.27 L250.0 157.0 L250.9 157.36 L251.8 157.69 L252.7 158.41 L253.3 158.2 L253.6 157.91 L254.5 156.66 L255.0 157.0 L255.4 156.64 L256.3 155.66 L257.0 155.8 L257.2 156.05 L258.1 155.9 L259.0 155.62 L259.9 155.8 L260.8 156.05 L261.7 155.82 L262.6 156.2 L263.5 155.78 L263.6 155.8 L264.4 157.05 L265.3 157.8 L266.2 157.95 L267.1 157.68 L268.0 156.9 L268.9 156.72 L269.8 157.21 L270.7 156.4 L271.6 156.66 L272.0 157.0 L272.5 156.52 L273.4 157.63 L274.3 157.14 L275.2 157.71 L275.6 157.8 L276.1 157.61 L277.0 157.42 L277.9 157.01 L278.8 157.02 L279.0 156.9 L279.7 157.42 L280.6 156.87 L281.5 157.0 L282.4 157.12 L283.0 156.8 L283.3 156.57 L284.2 155.72 L285.1 155.41 L285.4 155.4 L286.0 155.68 L286.9 154.79 L287.8 155.04 L288.0 155.2 L288.7 155.64 L289.6 155.76 L290.5 155.7 L291.0 155.8 L291.4 156.57 L292.3 157.58 L292.5 157.8 L293.2 157.17 L294.1 156.69 L295.0 156.8 L295.9 156.4 L296.8 156.67 L297.7 156.01 L298.5 156.0 L298.6 155.74 L299.5 155.86 L300.4 155.71 L300.7 156.2 L301.3 156.76 L302.2 157.35 L302.9 158.4 L303.1 158.32 L304.0 156.64 L304.9 156.59 L305.0 156.4 L305.8 156.19 L306.7 155.78 L307.6 156.57 L308.5 156.25 L309.4 155.64 L310.3 156.03 L311.2 156.36 L312.1 156.12 L313.0 156.47 L313.9 156.45 L314.8 156.4 L315.7 156.28 L316.6 156.57 L317.5 156.35 L318.4 156.27 L319.3 155.49 L320.0 156.1 L320.2 156.44 L321.1 156.88 L322.0 156.8 L322.9 156.71 L323.8 156.66 L324.7 157.38 L325.6 156.27 L326.5 156.94 L327.4 157.53 L328.3 156.52 L329.2 157.01 L330.1 157.37 L331.0 156.76 L331.9 156.97 L332.8 157.07 L333.7 156.53 L334.6 156.77 L335.5 156.89 L336.4 157.05 L337.0 156.8 L337.3 156.58 L338.0 156.1 L338.2 156.05 L339.1 155.82 L340.0 156.04 L340.9 156.44 L341.8 156.23 L342.0 156.2 L342.7 157.6 L343.6 157.03 L344.5 156.72 L345.0 156.8 L345.4 157.71 L346.3 157.51 L347.2 157.61 L348.1 156.89 L348.2 157.7 L349.0 157.66 L349.9 157.36 L350.8 157.46 L351.0 156.9 L351.7 157.32 L352.6 157.56 L353.5 158.11 L353.6 158.0 L354.4 157.0 L355.3 157.42 L355.5 157.0 L356.2 157.32 L357.1 157.29 L357.4 157.6 L358.0 156.91 L358.5 155.6 L358.9 156.1 L359.8 155.03 L360.7 155.15 L361.6 155.33 L362.0 155.2 L362.5 155.3 L363.4 155.2 L364.3 155.1 L365.2 156.11 L366.1 155.86 L366.7 155.6 L367.0 155.39 L367.9 155.77 L368.8 157.12 L369.0 156.7 L369.7 156.93 L370.6 157.09 L371.0 156.5 L371.5 156.34 L372.4 155.12 L372.5 155.3 L373.3 155.29 L374.2 154.46 L375.1 154.78 L376.0 154.9 L376.9 155.02 L377.8 155.34 L378.7 155.11 L379.6 155.43 L379.8 155.5 L380.5 155.79 L381.4 155.96 L382.3 156.24 L383.0 156.2 L383.2 156.27 L384.1 156.14 L385.0 156.5 L385.9 156.31 L386.0 156.3 L386.8 155.92 L387.7 155.84 L388.5 155.9 L388.6 155.9 L389.5 155.85 L390.4 155.92 L391.3 155.86 L392.2 155.9 L393.1 155.8 L394.0 155.45 L394.9 155.94 L395.8 156.12 L396.0 155.8 L396.7 156.34 L397.2 156.5 L397.6 157.59 L398.5 160.35 L399.3 162.5 L399.4 161.95 L400.3 159.28 L401.0 158.0 L401.2 158.25 L402.1 158.99 L403.0 160.3 L403.9 159.58 L404.8 158.09 L405.2 158.0 L405.7 157.63 L406.6 158.85 L407.5 160.38 L408.1 160.4 L408.4 159.87 L409.3 158.35 L410.0 157.8 L410.2 157.69 L411.1 158.61 L412.0 159.13 L412.7 159.4 L412.9 159.44 L413.8 159.78 L414.5 159.3 L414.7 159.31 L415.6 158.19 L416.3 157.5 L416.5 157.5 L417.4 156.99 L418.3 155.97 L418.6 155.4 L419.2 155.71 L420.1 155.08 L421.0 155.36 L421.9 155.62 L422.8 155.31 L423.7 155.72 L424.6 155.58 L425.0 155.4 L425.5 156.73 L426.4 158.29 L426.8 159.2 L427.3 159.96 L428.2 159.57 L428.8 159.2 L429.1 158.7 L430.0 157.48 L430.9 156.92 L431.0 156.0 L431.7 155.3 L431.8 155.18 L432.7 155.4 L433.5 155.0 L433.6 155.32 L434.5 155.29 L435.4 155.19 L435.6 155.6 L436.3 155.99 L437.2 156.48 L438.1 157.15 L438.5 157.0 L439.0 157.05 L439.9 156.49 L440.8 156.4 L441.7 155.97 L442.6 155.54 L442.8 155.4 L443.5 155.67 L444.4 155.91 L445.3 156.52 L446.2 156.33 L447.1 156.79 L447.7 157.2 L448.0 157.09 L448.9 156.33 L449.8 156.31 L450.7 155.52 L451.6 155.59 L452.5 155.64 L452.7 155.4 L453.4 155.8 L454.3 155.92 L455.2 156.16 L456.0 156.5 L456.1 156.11 L457.0 157.42 L457.9 157.35 L458.8 157.85 L459.0 157.6 L459.7 156.87 L460.6 156.48 L461.5 155.39 L462.3 155.4 L462.4 155.68 L463.3 156.18 L464.2 155.78 L464.7 156.6 L465.1 156.6 L466.0 156.85 L466.9 156.18 L467.8 156.2 L468.7 156.47 L469.6 156.64 L470.5 156.46 L471.0 156.9 L471.4 157.1 L472.3 157.59 L473.2 158.14 L474.1 158.58 L475.0 158.8 L475.9 159.96 L476.8 160.56 L477.7 160.53 L477.8 161.0 L478.6 159.44 L479.5 157.69 L479.9 157.3 L480.4 156.73 L481.3 156.58 L482.2 156.15 L482.5 156.0 L483.1 156.06 L484.0 155.31 L484.9 155.28 L485.8 155.51 L486.7 155.33 L487.6 155.16 L488.0 155.2 L488.5 155.13 L489.4 154.83 L490.3 155.17 L491.2 154.98 L492.1 154.75 L493.0 154.48 L493.8 154.6 L493.9 154.59 L494.8 154.19 L495.7 155.08 L496.0 155.5 L496.6 155.91 L497.5 156.5 L498.3 160.6 L498.4 159.69 L499.2 156.5 L499.3 156.5 L500.2 155.93 L501.0 155.4 L501.1 154.96 L502.0 155.09 L502.9 154.86 L503.8 154.88 L504.7 154.72 L505.6 154.32 L506.5 153.86 L507.0 154.0 L507.4 154.42 L508.3 155.5 L509.2 156.95 L509.4 157.3 L510.1 157.44 L511.0 157.2 L511.9 156.79 L512.0 157.0 L512.8 155.47 L513.0 155.6 L513.7 155.49 L514.6 155.38 L515.5 155.27 L516.4 155.57 L516.5 155.6 L517.3 156.21 L518.2 157.25 L518.6 157.6 L519.1 157.28 L520.0 156.14 L520.7 155.6 L520.9 156.24 L521.8 155.2 L522.7 155.37 L523.6 154.83 L524.3 154.6 L524.5 154.98 L525.4 154.11 L526.3 154.78 L527.2 155.27 L528.1 155.56 L529.0 156.26 L529.2 155.6 L529.9 156.14 L530.8 157.0 L531.4 157.0 L531.7 157.05 L532.6 156.56 L533.5 155.89 L534.4 155.15 L534.9 154.9 L535.3 155.18 L536.2 154.99 L537.1 155.96 L537.7 155.8 L538.0 155.5 L538.9 155.9 L539.8 156.47 L540.7 155.79 L541.6 155.87 L542.5 156.23 L543.4 155.9 L544.3 156.49 L544.8 156.8 L545.2 157.04 L546.1 158.46 L546.2 158.5 L547.0 158.52 L547.9 158.38 L548.8 157.76 L549.7 158.35 L549.8 157.8 L550.6 158.81 L551.5 158.89 L552.0 159.2 L552.4 159.28 L553.3 159.07 L554.2 159.62 L555.2 159.2 L557 166.6 L559 165.8 L562.1 168.4 L563.9 185.7 L566 200.4 L567 200.7 L567.7 245 L568.1 264.2 L570.6 267.3 L572.3 266 L573.2 266 L575.4 283.3 L576.6 309.2 L577.5 330 L579.2 356 L581 381.9 L581.5 400.9 L582.7 383.6 L583.9 410.4 L585.3 387.1 L586.1 403.5 L587 387.1 L588.2 364.6 L590.1 324.8 L592.2 349 L593.9 343.8 L596.5 323.9 L598.3 324.8 L601.4 307.5 L602 314.4 L603.4 306.6 L605.2 319.6 L607.4 309.2 L608.3 310 L610.7 336 L612.1 323 L614.7 326.5 L617.6 334 L619.9 328.2 L622.8 317.9 L624.7 316.1 L626.8 307.5 L628.5 303.1 L630.3 290.2 L632 271.1 L632.5 260.8 L633.7 262.5 L635.4 242.9 L636.8 248 L638 242 L640.6 236.8 L642 239.4 L643.2 234.2 L645.4 229.9 L647 222.1 L648 191 L649.2 187.5 L650.4 181.4 L651.3 191 L652.7 216.9 L653.9 231.6 L654.8 235.1 L656 235.1 L657.5 237.7 L658.7 244.6 L660.1 248 L661.9 244.6 L663.4 237.7 L664.8 220.4 L666.2 231.6 L667.9 233.7 L669.6 232.5 L670.8 228.1 L672.1 216 L674 209.1 L675.2 206.5 L676.6 215.2 L677.8 203.9 L679 210 L680.7 206.5 L683 198.7 L685.6 199.6 L687.6 202.2 L688.7 211.7 L689.9 219.5 L691.6 215.2 L693.7 218.6 L695.9 225.6 L697.5 231.4 L699.5 250.4 L702.1 266.8 L704.7 282 L705.9 277.2 L707.6 275.4 L709 266.8 L710.4 270.3 L712 264.2 L714.2 261.1 L716.3 263.9 L718.5 260.7 L720.8 256.4 L722.5 250 L723.9 250 L725.1 258.1 L727.2 262.1 L728.4 260.7 L730.1 262.5 L731.5 258.1 L732.7 248.6 L733.8 246.6 L735.3 247.8 L736.7 250 L738 250.3 L738.8 254.7 L740.2 253 L741 254.7 L742.2 250 L743.6 251.2 L745.7 254.7 L748 256.4 L749.7 256.4 L750.6 253.8 L751.8 256.4 L752.8 248.6 L754 236.5 L756.1 236.5 L757.8 241.7 L758.9 232.2 L760.1 222.7 L761.3 227.9 L763 235.7 L764 237.4 L764.9 231.3 L766.1 239.1 L767.5 231.3 L768.7 232.2 L769.9 230.5 L771.3 228.7 L773 229.6 L774.8 227.9 L776.2 228.7 L777 233.1 L777.8 209.2 L779 193.6 L780.7 183.3 L782.5 176.3 L783.8 172.9 L785.6 176.3 L787 171.1 L788.7 166.5 L790.4 167.7 L792.5 171.1 L795.1 170.3 L797.3 169.1 L799.4 171.7 L801.5 171.7 L803.2 169.4 L804.6 167.7 L806 173.7 L807.2 173.7 L808.4 170.8 L809.8 171.1 L811.5 173.7 L813.3 175.5 L814.6 178.1 L816.4 176.3 L817.6 177.2 L819.3 179.8 L821.9 177.2 L824.5 174.6 L826.7 175.5 L828.8 178.1 L830.6 181.5 L833.1 182.4 L834.9 188.1 L836.6 181.2 L838.3 181.5 L840.1 182.4 L841.3 181.5 L842.7 183.3 L844.7 185.3 L846.1 185 L847.9 183.3 L849.2 185.3 L850.1 174.6 L851.3 167.7 L852.7 172 L853.9 170.3 L855.1 167.7 L855.1 156.1 L43 156.1 Z" fill="#16c784" fill-opacity="0.06" clip-path="url(#up)"/>
<g fill="none" stroke-width="2.2" stroke-linejoin="round" stroke-linecap="round"><path d="M43.0 156.8 L43.9 156.72 L44.8 156.95 L45.7 156.73 L46.6 156.71 L47.0 156.8 L47.5 156.35 L48.4 156.25 L49.0 156.1 L49.3 156.43 L50.2 156.22 L51.1 156.39 L52.0 156.14 L52.9 156.18 L53.8 156.11 L54.7 155.54 L55.6 156.29 L56.5 156.18 L57.4 156.17 L58.3 155.5 L59.0 156.0 L59.2 155.51 L60.1 155.92 L61.0 156.19 L61.9 156.57 L62.0 156.5 L62.8 156.49 L63.7 156.66 L64.0 156.5 L64.6 156.04 L65.5 155.92 L66.0 155.6 L66.4 155.72 L67.3 155.4 L68.2 156.12 L69.1 155.77 L70.0 155.96 L70.9 155.41 L71.8 155.38 L72.7 155.5 L73.6 155.57 L74.5 155.79 L75.0 155.6 L75.4 155.75 L76.3 155.73 L77.2 155.75 L78.0 156.2 L78.1 156.04 L79.0 156.54 L79.9 155.91 L80.8 156.2 L81.7 156.24 L82.6 155.64 L83.5 156.08 L84.4 156.43 L85.3 155.41 L86.0 156.0 L86.2 155.91 L87.1 155.99 L88.0 155.8 L88.9 156.21 L89.8 156.07 L90.7 155.67 L91.6 156.37 L92.5 156.35 L93.4 156.45 L94.3 156.62 L95.0 156.2 L95.2 156.3 L96.1 156.21 L97.0 155.77 L97.9 156.33 L98.8 155.94 L99.7 155.97 L100.6 155.71 L101.5 155.78 L102.4 155.89 L103.3 156.42 L104.2 155.41 L105.0 156.0 L105.1 155.57 L106.0 156.11 L106.9 156.51 L107.8 156.29 L108.7 155.59 L109.6 155.44 L110.5 156.34 L111.4 156.05 L112.0 156.3 L112.3 155.95 L113.2 156.55 L114.1 156.55 L115.0 156.23 L115.9 156.23 L116.8 156.25 L117.7 156.56 L118.6 156.24 L119.5 156.17 L120.0 156.0 L120.4 156.17 L121.3 155.54 L122.2 156.41 L123.1 156.32 L124.0 156.2 L124.9 155.46 L125.8 155.87 L126.7 156.32 L127.6 155.53 L128.5 156.03 L129.4 156.4 L130.0 156.1 L130.3 155.72 L131.2 156.62 L132.1 156.34 L133.0 156.15 L133.9 156.33 L134.8 156.45 L135.7 156.33 L136.0 156.3 L136.6 157.02 L137.5 157.05 L137.9 157.5 L138.4 156.47 L139.0 155.5 L139.3 155.36 L140.0 154.0 L140.2 154.07 L141.1 154.1 L141.5 154.5 L142.0 155.25 L142.9 156.25 L143.0 155.9 L143.8 156.08 L144.7 156.15 L145.6 156.88 L145.8 157.0 L146.5 156.64 L147.4 156.18 L148.0 156.0 L148.3 156.19 L149.2 154.76 L150.1 154.76 L150.2 154.3 L151.0 154.32 L151.9 154.91 L152.0 155.2 L152.8 155.75 L153.7 156.29 L154.6 156.61 L155.5 156.86 L155.6 156.8 L156.4 156.48 L157.3 156.07 L158.2 155.79 L158.9 155.3 L159.1 155.33 L160.0 155.85 L160.9 156.33 L161.0 156.2 L161.8 156.62 L162.7 157.32 L163.3 157.4 L163.6 157.27 L164.5 156.8 L165.4 155.3 L166.3 155.64 L167.2 155.66 L168.0 156.0 L168.1 155.91 L169.0 156.23 L169.9 156.72 L170.8 156.56 L171.4 156.8 L171.7 156.92 L172.6 157.35 L173.5 156.03 L173.6 156.8 L174.4 156.17 L175.3 156.25 L176.2 155.97 L176.9 155.6 L177.1 155.65 L178.0 155.35 L178.9 155.58 L179.8 155.37 L180.7 155.03 L181.6 155.82 L182.5 155.1 L183.4 154.9 L184.3 154.85 L185.2 155.1 L186.1 155.18 L187.0 155.34 L187.9 154.65 L188.8 155.44 L188.9 155.6 L189.7 156.21 L190.6 155.9 L191.0 156.4 L191.5 156.38 L192.4 156.69 L193.3 156.66 L194.2 156.85 L195.1 155.89 L196.0 156.29 L196.9 156.3 L197.8 156.59 L198.7 156.73 L199.6 155.6 L200.5 156.73 L201.4 155.97 L202.3 156.6 L203.2 155.95 L204.1 156.45 L205.0 156.76 L205.9 156.36 L206.0 156.4 L206.8 156.56 L207.7 156.87 L208.6 156.79 L209.0 156.8 L209.5 156.89 L210.4 157.6 L211.3 157.67 L212.2 157.49 L212.3 157.6 L213.1 158.1 L214.0 156.56 L214.9 156.82 L215.0 156.5 L215.8 156.34 L216.7 156.37 L217.6 156.45 L218.0 156.2 L218.5 156.25 L219.4 156.34 L220.3 155.65 L221.2 155.62 L222.1 156.22 L223.0 156.0 L223.9 155.71 L224.8 155.69 L225.7 155.56 L226.6 156.38 L227.5 156.22 L228.4 156.44 L229.0 156.0 L229.3 155.81 L230.2 156.36 L231.0 156.6 L231.1 156.23 L232.0 156.53 L232.9 156.51 L233.0 156.0 L233.8 155.73 L234.7 156.47 L235.6 156.3 L236.5 155.95 L237.4 155.41 L238.3 156.42 L239.2 155.97 L240.1 155.82 L241.0 156.12 L241.9 156.12 L242.0 156.0 L242.8 156.66 L243.7 156.15 L244.6 157.03 L245.0 156.8 L245.5 157.27 L246.4 157.29 L247.3 156.84 L248.2 156.7 L249.1 157.27 L250.0 157.0 L250.9 157.36 L251.8 157.69 L252.7 158.41 L253.3 158.2 L253.6 157.91 L254.5 156.66 L255.0 157.0 L255.4 156.64 L256.3 155.66 L257.0 155.8 L257.2 156.05 L258.1 155.9 L259.0 155.62 L259.9 155.8 L260.8 156.05 L261.7 155.82 L262.6 156.2 L263.5 155.78 L263.6 155.8 L264.4 157.05 L265.3 157.8 L266.2 157.95 L267.1 157.68 L268.0 156.9 L268.9 156.72 L269.8 157.21 L270.7 156.4 L271.6 156.66 L272.0 157.0 L272.5 156.52 L273.4 157.63 L274.3 157.14 L275.2 157.71 L275.6 157.8 L276.1 157.61 L277.0 157.42 L277.9 157.01 L278.8 157.02 L279.0 156.9 L279.7 157.42 L280.6 156.87 L281.5 157.0 L282.4 157.12 L283.0 156.8 L283.3 156.57 L284.2 155.72 L285.1 155.41 L285.4 155.4 L286.0 155.68 L286.9 154.79 L287.8 155.04 L288.0 155.2 L288.7 155.64 L289.6 155.76 L290.5 155.7 L291.0 155.8 L291.4 156.57 L292.3 157.58 L292.5 157.8 L293.2 157.17 L294.1 156.69 L295.0 156.8 L295.9 156.4 L296.8 156.67 L297.7 156.01 L298.5 156.0 L298.6 155.74 L299.5 155.86 L300.4 155.71 L300.7 156.2 L301.3 156.76 L302.2 157.35 L302.9 158.4 L303.1 158.32 L304.0 156.64 L304.9 156.59 L305.0 156.4 L305.8 156.19 L306.7 155.78 L307.6 156.57 L308.5 156.25 L309.4 155.64 L310.3 156.03 L311.2 156.36 L312.1 156.12 L313.0 156.47 L313.9 156.45 L314.8 156.4 L315.7 156.28 L316.6 156.57 L317.5 156.35 L318.4 156.27 L319.3 155.49 L320.0 156.1 L320.2 156.44 L321.1 156.88 L322.0 156.8 L322.9 156.71 L323.8 156.66 L324.7 157.38 L325.6 156.27 L326.5 156.94 L327.4 157.53 L328.3 156.52 L329.2 157.01 L330.1 157.37 L331.0 156.76 L331.9 156.97 L332.8 157.07 L333.7 156.53 L334.6 156.77 L335.5 156.89 L336.4 157.05 L337.0 156.8 L337.3 156.58 L338.0 156.1 L338.2 156.05 L339.1 155.82 L340.0 156.04 L340.9 156.44 L341.8 156.23 L342.0 156.2 L342.7 157.6 L343.6 157.03 L344.5 156.72 L345.0 156.8 L345.4 157.71 L346.3 157.51 L347.2 157.61 L348.1 156.89 L348.2 157.7 L349.0 157.66 L349.9 157.36 L350.8 157.46 L351.0 156.9 L351.7 157.32 L352.6 157.56 L353.5 158.11 L353.6 158.0 L354.4 157.0 L355.3 157.42 L355.5 157.0 L356.2 157.32 L357.1 157.29 L357.4 157.6 L358.0 156.91 L358.5 155.6 L358.9 156.1 L359.8 155.03 L360.7 155.15 L361.6 155.33 L362.0 155.2 L362.5 155.3 L363.4 155.2 L364.3 155.1 L365.2 156.11 L366.1 155.86 L366.7 155.6 L367.0 155.39 L367.9 155.77 L368.8 157.12 L369.0 156.7 L369.7 156.93 L370.6 157.09 L371.0 156.5 L371.5 156.34 L372.4 155.12 L372.5 155.3 L373.3 155.29 L374.2 154.46 L375.1 154.78 L376.0 154.9 L376.9 155.02 L377.8 155.34 L378.7 155.11 L379.6 155.43 L379.8 155.5 L380.5 155.79 L381.4 155.96 L382.3 156.24 L383.0 156.2 L383.2 156.27 L384.1 156.14 L385.0 156.5 L385.9 156.31 L386.0 156.3 L386.8 155.92 L387.7 155.84 L388.5 155.9 L388.6 155.9 L389.5 155.85 L390.4 155.92 L391.3 155.86 L392.2 155.9 L393.1 155.8 L394.0 155.45 L394.9 155.94 L395.8 156.12 L396.0 155.8 L396.7 156.34 L397.2 156.5 L397.6 157.59 L398.5 160.35 L399.3 162.5 L399.4 161.95 L400.3 159.28 L401.0 158.0 L401.2 158.25 L402.1 158.99 L403.0 160.3 L403.9 159.58 L404.8 158.09 L405.2 158.0 L405.7 157.63 L406.6 158.85 L407.5 160.38 L408.1 160.4 L408.4 159.87 L409.3 158.35 L410.0 157.8 L410.2 157.69 L411.1 158.61 L412.0 159.13 L412.7 159.4 L412.9 159.44 L413.8 159.78 L414.5 159.3 L414.7 159.31 L415.6 158.19 L416.3 157.5 L416.5 157.5 L417.4 156.99 L418.3 155.97 L418.6 155.4 L419.2 155.71 L420.1 155.08 L421.0 155.36 L421.9 155.62 L422.8 155.31 L423.7 155.72 L424.6 155.58 L425.0 155.4 L425.5 156.73 L426.4 158.29 L426.8 159.2 L427.3 159.96 L428.2 159.57 L428.8 159.2 L429.1 158.7 L430.0 157.48 L430.9 156.92 L431.0 156.0 L431.7 155.3 L431.8 155.18 L432.7 155.4 L433.5 155.0 L433.6 155.32 L434.5 155.29 L435.4 155.19 L435.6 155.6 L436.3 155.99 L437.2 156.48 L438.1 157.15 L438.5 157.0 L439.0 157.05 L439.9 156.49 L440.8 156.4 L441.7 155.97 L442.6 155.54 L442.8 155.4 L443.5 155.67 L444.4 155.91 L445.3 156.52 L446.2 156.33 L447.1 156.79 L447.7 157.2 L448.0 157.09 L448.9 156.33 L449.8 156.31 L450.7 155.52 L451.6 155.59 L452.5 155.64 L452.7 155.4 L453.4 155.8 L454.3 155.92 L455.2 156.16 L456.0 156.5 L456.1 156.11 L457.0 157.42 L457.9 157.35 L458.8 157.85 L459.0 157.6 L459.7 156.87 L460.6 156.48 L461.5 155.39 L462.3 155.4 L462.4 155.68 L463.3 156.18 L464.2 155.78 L464.7 156.6 L465.1 156.6 L466.0 156.85 L466.9 156.18 L467.8 156.2 L468.7 156.47 L469.6 156.64 L470.5 156.46 L471.0 156.9 L471.4 157.1 L472.3 157.59 L473.2 158.14 L474.1 158.58 L475.0 158.8 L475.9 159.96 L476.8 160.56 L477.7 160.53 L477.8 161.0 L478.6 159.44 L479.5 157.69 L479.9 157.3 L480.4 156.73 L481.3 156.58 L482.2 156.15 L482.5 156.0 L483.1 156.06 L484.0 155.31 L484.9 155.28 L485.8 155.51 L486.7 155.33 L487.6 155.16 L488.0 155.2 L488.5 155.13 L489.4 154.83 L490.3 155.17 L491.2 154.98 L492.1 154.75 L493.0 154.48 L493.8 154.6 L493.9 154.59 L494.8 154.19 L495.7 155.08 L496.0 155.5 L496.6 155.91 L497.5 156.5 L498.3 160.6 L498.4 159.69 L499.2 156.5 L499.3 156.5 L500.2 155.93 L501.0 155.4 L501.1 154.96 L502.0 155.09 L502.9 154.86 L503.8 154.88 L504.7 154.72 L505.6 154.32 L506.5 153.86 L507.0 154.0 L507.4 154.42 L508.3 155.5 L509.2 156.95 L509.4 157.3 L510.1 157.44 L511.0 157.2 L511.9 156.79 L512.0 157.0 L512.8 155.47 L513.0 155.6 L513.7 155.49 L514.6 155.38 L515.5 155.27 L516.4 155.57 L516.5 155.6 L517.3 156.21 L518.2 157.25 L518.6 157.6 L519.1 157.28 L520.0 156.14 L520.7 155.6 L520.9 156.24 L521.8 155.2 L522.7 155.37 L523.6 154.83 L524.3 154.6 L524.5 154.98 L525.4 154.11 L526.3 154.78 L527.2 155.27 L528.1 155.56 L529.0 156.26 L529.2 155.6 L529.9 156.14 L530.8 157.0 L531.4 157.0 L531.7 157.05 L532.6 156.56 L533.5 155.89 L534.4 155.15 L534.9 154.9 L535.3 155.18 L536.2 154.99 L537.1 155.96 L537.7 155.8 L538.0 155.5 L538.9 155.9 L539.8 156.47 L540.7 155.79 L541.6 155.87 L542.5 156.23 L543.4 155.9 L544.3 156.49 L544.8 156.8 L545.2 157.04 L546.1 158.46 L546.2 158.5 L547.0 158.52 L547.9 158.38 L548.8 157.76 L549.7 158.35 L549.8 157.8 L550.6 158.81 L551.5 158.89 L552.0 159.2 L552.4 159.28 L553.3 159.07 L554.2 159.62 L555.2 159.2 L557 166.6 L559 165.8 L562.1 168.4 L563.9 185.7 L566 200.4 L567 200.7 L567.7 245 L568.1 264.2 L570.6 267.3 L572.3 266 L573.2 266 L575.4 283.3 L576.6 309.2 L577.5 330 L579.2 356 L581 381.9 L581.5 400.9 L582.7 383.6 L583.9 410.4 L585.3 387.1 L586.1 403.5 L587 387.1 L588.2 364.6 L590.1 324.8 L592.2 349 L593.9 343.8 L596.5 323.9 L598.3 324.8 L601.4 307.5 L602 314.4 L603.4 306.6 L605.2 319.6 L607.4 309.2 L608.3 310 L610.7 336 L612.1 323 L614.7 326.5 L617.6 334 L619.9 328.2 L622.8 317.9 L624.7 316.1 L626.8 307.5 L628.5 303.1 L630.3 290.2 L632 271.1 L632.5 260.8 L633.7 262.5 L635.4 242.9 L636.8 248 L638 242 L640.6 236.8 L642 239.4 L643.2 234.2 L645.4 229.9 L647 222.1 L648 191 L649.2 187.5 L650.4 181.4 L651.3 191 L652.7 216.9 L653.9 231.6 L654.8 235.1 L656 235.1 L657.5 237.7 L658.7 244.6 L660.1 248 L661.9 244.6 L663.4 237.7 L664.8 220.4 L666.2 231.6 L667.9 233.7 L669.6 232.5 L670.8 228.1 L672.1 216 L674 209.1 L675.2 206.5 L676.6 215.2 L677.8 203.9 L679 210 L680.7 206.5 L683 198.7 L685.6 199.6 L687.6 202.2 L688.7 211.7 L689.9 219.5 L691.6 215.2 L693.7 218.6 L695.9 225.6 L697.5 231.4 L699.5 250.4 L702.1 266.8 L704.7 282 L705.9 277.2 L707.6 275.4 L709 266.8 L710.4 270.3 L712 264.2 L714.2 261.1 L716.3 263.9 L718.5 260.7 L720.8 256.4 L722.5 250 L723.9 250 L725.1 258.1 L727.2 262.1 L728.4 260.7 L730.1 262.5 L731.5 258.1 L732.7 248.6 L733.8 246.6 L735.3 247.8 L736.7 250 L738 250.3 L738.8 254.7 L740.2 253 L741 254.7 L742.2 250 L743.6 251.2 L745.7 254.7 L748 256.4 L749.7 256.4 L750.6 253.8 L751.8 256.4 L752.8 248.6 L754 236.5 L756.1 236.5 L757.8 241.7 L758.9 232.2 L760.1 222.7 L761.3 227.9 L763 235.7 L764 237.4 L764.9 231.3 L766.1 239.1 L767.5 231.3 L768.7 232.2 L769.9 230.5 L771.3 228.7 L773 229.6 L774.8 227.9 L776.2 228.7 L777 233.1 L777.8 209.2 L779 193.6 L780.7 183.3 L782.5 176.3 L783.8 172.9 L785.6 176.3 L787 171.1 L788.7 166.5 L790.4 167.7 L792.5 171.1 L795.1 170.3 L797.3 169.1 L799.4 171.7 L801.5 171.7 L803.2 169.4 L804.6 167.7 L806 173.7 L807.2 173.7 L808.4 170.8 L809.8 171.1 L811.5 173.7 L813.3 175.5 L814.6 178.1 L816.4 176.3 L817.6 177.2 L819.3 179.8 L821.9 177.2 L824.5 174.6 L826.7 175.5 L828.8 178.1 L830.6 181.5 L833.1 182.4 L834.9 188.1 L836.6 181.2 L838.3 181.5 L840.1 182.4 L841.3 181.5 L842.7 183.3 L844.7 185.3 L846.1 185 L847.9 183.3 L849.2 185.3 L850.1 174.6 L851.3 167.7 L852.7 172 L853.9 170.3 L855.1 167.7" stroke="#ea3943" clip-path="url(#dn)"/><path d="M43.0 156.8 L43.9 156.72 L44.8 156.95 L45.7 156.73 L46.6 156.71 L47.0 156.8 L47.5 156.35 L48.4 156.25 L49.0 156.1 L49.3 156.43 L50.2 156.22 L51.1 156.39 L52.0 156.14 L52.9 156.18 L53.8 156.11 L54.7 155.54 L55.6 156.29 L56.5 156.18 L57.4 156.17 L58.3 155.5 L59.0 156.0 L59.2 155.51 L60.1 155.92 L61.0 156.19 L61.9 156.57 L62.0 156.5 L62.8 156.49 L63.7 156.66 L64.0 156.5 L64.6 156.04 L65.5 155.92 L66.0 155.6 L66.4 155.72 L67.3 155.4 L68.2 156.12 L69.1 155.77 L70.0 155.96 L70.9 155.41 L71.8 155.38 L72.7 155.5 L73.6 155.57 L74.5 155.79 L75.0 155.6 L75.4 155.75 L76.3 155.73 L77.2 155.75 L78.0 156.2 L78.1 156.04 L79.0 156.54 L79.9 155.91 L80.8 156.2 L81.7 156.24 L82.6 155.64 L83.5 156.08 L84.4 156.43 L85.3 155.41 L86.0 156.0 L86.2 155.91 L87.1 155.99 L88.0 155.8 L88.9 156.21 L89.8 156.07 L90.7 155.67 L91.6 156.37 L92.5 156.35 L93.4 156.45 L94.3 156.62 L95.0 156.2 L95.2 156.3 L96.1 156.21 L97.0 155.77 L97.9 156.33 L98.8 155.94 L99.7 155.97 L100.6 155.71 L101.5 155.78 L102.4 155.89 L103.3 156.42 L104.2 155.41 L105.0 156.0 L105.1 155.57 L106.0 156.11 L106.9 156.51 L107.8 156.29 L108.7 155.59 L109.6 155.44 L110.5 156.34 L111.4 156.05 L112.0 156.3 L112.3 155.95 L113.2 156.55 L114.1 156.55 L115.0 156.23 L115.9 156.23 L116.8 156.25 L117.7 156.56 L118.6 156.24 L119.5 156.17 L120.0 156.0 L120.4 156.17 L121.3 155.54 L122.2 156.41 L123.1 156.32 L124.0 156.2 L124.9 155.46 L125.8 155.87 L126.7 156.32 L127.6 155.53 L128.5 156.03 L129.4 156.4 L130.0 156.1 L130.3 155.72 L131.2 156.62 L132.1 156.34 L133.0 156.15 L133.9 156.33 L134.8 156.45 L135.7 156.33 L136.0 156.3 L136.6 157.02 L137.5 157.05 L137.9 157.5 L138.4 156.47 L139.0 155.5 L139.3 155.36 L140.0 154.0 L140.2 154.07 L141.1 154.1 L141.5 154.5 L142.0 155.25 L142.9 156.25 L143.0 155.9 L143.8 156.08 L144.7 156.15 L145.6 156.88 L145.8 157.0 L146.5 156.64 L147.4 156.18 L148.0 156.0 L148.3 156.19 L149.2 154.76 L150.1 154.76 L150.2 154.3 L151.0 154.32 L151.9 154.91 L152.0 155.2 L152.8 155.75 L153.7 156.29 L154.6 156.61 L155.5 156.86 L155.6 156.8 L156.4 156.48 L157.3 156.07 L158.2 155.79 L158.9 155.3 L159.1 155.33 L160.0 155.85 L160.9 156.33 L161.0 156.2 L161.8 156.62 L162.7 157.32 L163.3 157.4 L163.6 157.27 L164.5 156.8 L165.4 155.3 L166.3 155.64 L167.2 155.66 L168.0 156.0 L168.1 155.91 L169.0 156.23 L169.9 156.72 L170.8 156.56 L171.4 156.8 L171.7 156.92 L172.6 157.35 L173.5 156.03 L173.6 156.8 L174.4 156.17 L175.3 156.25 L176.2 155.97 L176.9 155.6 L177.1 155.65 L178.0 155.35 L178.9 155.58 L179.8 155.37 L180.7 155.03 L181.6 155.82 L182.5 155.1 L183.4 154.9 L184.3 154.85 L185.2 155.1 L186.1 155.18 L187.0 155.34 L187.9 154.65 L188.8 155.44 L188.9 155.6 L189.7 156.21 L190.6 155.9 L191.0 156.4 L191.5 156.38 L192.4 156.69 L193.3 156.66 L194.2 156.85 L195.1 155.89 L196.0 156.29 L196.9 156.3 L197.8 156.59 L198.7 156.73 L199.6 155.6 L200.5 156.73 L201.4 155.97 L202.3 156.6 L203.2 155.95 L204.1 156.45 L205.0 156.76 L205.9 156.36 L206.0 156.4 L206.8 156.56 L207.7 156.87 L208.6 156.79 L209.0 156.8 L209.5 156.89 L210.4 157.6 L211.3 157.67 L212.2 157.49 L212.3 157.6 L213.1 158.1 L214.0 156.56 L214.9 156.82 L215.0 156.5 L215.8 156.34 L216.7 156.37 L217.6 156.45 L218.0 156.2 L218.5 156.25 L219.4 156.34 L220.3 155.65 L221.2 155.62 L222.1 156.22 L223.0 156.0 L223.9 155.71 L224.8 155.69 L225.7 155.56 L226.6 156.38 L227.5 156.22 L228.4 156.44 L229.0 156.0 L229.3 155.81 L230.2 156.36 L231.0 156.6 L231.1 156.23 L232.0 156.53 L232.9 156.51 L233.0 156.0 L233.8 155.73 L234.7 156.47 L235.6 156.3 L236.5 155.95 L237.4 155.41 L238.3 156.42 L239.2 155.97 L240.1 155.82 L241.0 156.12 L241.9 156.12 L242.0 156.0 L242.8 156.66 L243.7 156.15 L244.6 157.03 L245.0 156.8 L245.5 157.27 L246.4 157.29 L247.3 156.84 L248.2 156.7 L249.1 157.27 L250.0 157.0 L250.9 157.36 L251.8 157.69 L252.7 158.41 L253.3 158.2 L253.6 157.91 L254.5 156.66 L255.0 157.0 L255.4 156.64 L256.3 155.66 L257.0 155.8 L257.2 156.05 L258.1 155.9 L259.0 155.62 L259.9 155.8 L260.8 156.05 L261.7 155.82 L262.6 156.2 L263.5 155.78 L263.6 155.8 L264.4 157.05 L265.3 157.8 L266.2 157.95 L267.1 157.68 L268.0 156.9 L268.9 156.72 L269.8 157.21 L270.7 156.4 L271.6 156.66 L272.0 157.0 L272.5 156.52 L273.4 157.63 L274.3 157.14 L275.2 157.71 L275.6 157.8 L276.1 157.61 L277.0 157.42 L277.9 157.01 L278.8 157.02 L279.0 156.9 L279.7 157.42 L280.6 156.87 L281.5 157.0 L282.4 157.12 L283.0 156.8 L283.3 156.57 L284.2 155.72 L285.1 155.41 L285.4 155.4 L286.0 155.68 L286.9 154.79 L287.8 155.04 L288.0 155.2 L288.7 155.64 L289.6 155.76 L290.5 155.7 L291.0 155.8 L291.4 156.57 L292.3 157.58 L292.5 157.8 L293.2 157.17 L294.1 156.69 L295.0 156.8 L295.9 156.4 L296.8 156.67 L297.7 156.01 L298.5 156.0 L298.6 155.74 L299.5 155.86 L300.4 155.71 L300.7 156.2 L301.3 156.76 L302.2 157.35 L302.9 158.4 L303.1 158.32 L304.0 156.64 L304.9 156.59 L305.0 156.4 L305.8 156.19 L306.7 155.78 L307.6 156.57 L308.5 156.25 L309.4 155.64 L310.3 156.03 L311.2 156.36 L312.1 156.12 L313.0 156.47 L313.9 156.45 L314.8 156.4 L315.7 156.28 L316.6 156.57 L317.5 156.35 L318.4 156.27 L319.3 155.49 L320.0 156.1 L320.2 156.44 L321.1 156.88 L322.0 156.8 L322.9 156.71 L323.8 156.66 L324.7 157.38 L325.6 156.27 L326.5 156.94 L327.4 157.53 L328.3 156.52 L329.2 157.01 L330.1 157.37 L331.0 156.76 L331.9 156.97 L332.8 157.07 L333.7 156.53 L334.6 156.77 L335.5 156.89 L336.4 157.05 L337.0 156.8 L337.3 156.58 L338.0 156.1 L338.2 156.05 L339.1 155.82 L340.0 156.04 L340.9 156.44 L341.8 156.23 L342.0 156.2 L342.7 157.6 L343.6 157.03 L344.5 156.72 L345.0 156.8 L345.4 157.71 L346.3 157.51 L347.2 157.61 L348.1 156.89 L348.2 157.7 L349.0 157.66 L349.9 157.36 L350.8 157.46 L351.0 156.9 L351.7 157.32 L352.6 157.56 L353.5 158.11 L353.6 158.0 L354.4 157.0 L355.3 157.42 L355.5 157.0 L356.2 157.32 L357.1 157.29 L357.4 157.6 L358.0 156.91 L358.5 155.6 L358.9 156.1 L359.8 155.03 L360.7 155.15 L361.6 155.33 L362.0 155.2 L362.5 155.3 L363.4 155.2 L364.3 155.1 L365.2 156.11 L366.1 155.86 L366.7 155.6 L367.0 155.39 L367.9 155.77 L368.8 157.12 L369.0 156.7 L369.7 156.93 L370.6 157.09 L371.0 156.5 L371.5 156.34 L372.4 155.12 L372.5 155.3 L373.3 155.29 L374.2 154.46 L375.1 154.78 L376.0 154.9 L376.9 155.02 L377.8 155.34 L378.7 155.11 L379.6 155.43 L379.8 155.5 L380.5 155.79 L381.4 155.96 L382.3 156.24 L383.0 156.2 L383.2 156.27 L384.1 156.14 L385.0 156.5 L385.9 156.31 L386.0 156.3 L386.8 155.92 L387.7 155.84 L388.5 155.9 L388.6 155.9 L389.5 155.85 L390.4 155.92 L391.3 155.86 L392.2 155.9 L393.1 155.8 L394.0 155.45 L394.9 155.94 L395.8 156.12 L396.0 155.8 L396.7 156.34 L397.2 156.5 L397.6 157.59 L398.5 160.35 L399.3 162.5 L399.4 161.95 L400.3 159.28 L401.0 158.0 L401.2 158.25 L402.1 158.99 L403.0 160.3 L403.9 159.58 L404.8 158.09 L405.2 158.0 L405.7 157.63 L406.6 158.85 L407.5 160.38 L408.1 160.4 L408.4 159.87 L409.3 158.35 L410.0 157.8 L410.2 157.69 L411.1 158.61 L412.0 159.13 L412.7 159.4 L412.9 159.44 L413.8 159.78 L414.5 159.3 L414.7 159.31 L415.6 158.19 L416.3 157.5 L416.5 157.5 L417.4 156.99 L418.3 155.97 L418.6 155.4 L419.2 155.71 L420.1 155.08 L421.0 155.36 L421.9 155.62 L422.8 155.31 L423.7 155.72 L424.6 155.58 L425.0 155.4 L425.5 156.73 L426.4 158.29 L426.8 159.2 L427.3 159.96 L428.2 159.57 L428.8 159.2 L429.1 158.7 L430.0 157.48 L430.9 156.92 L431.0 156.0 L431.7 155.3 L431.8 155.18 L432.7 155.4 L433.5 155.0 L433.6 155.32 L434.5 155.29 L435.4 155.19 L435.6 155.6 L436.3 155.99 L437.2 156.48 L438.1 157.15 L438.5 157.0 L439.0 157.05 L439.9 156.49 L440.8 156.4 L441.7 155.97 L442.6 155.54 L442.8 155.4 L443.5 155.67 L444.4 155.91 L445.3 156.52 L446.2 156.33 L447.1 156.79 L447.7 157.2 L448.0 157.09 L448.9 156.33 L449.8 156.31 L450.7 155.52 L451.6 155.59 L452.5 155.64 L452.7 155.4 L453.4 155.8 L454.3 155.92 L455.2 156.16 L456.0 156.5 L456.1 156.11 L457.0 157.42 L457.9 157.35 L458.8 157.85 L459.0 157.6 L459.7 156.87 L460.6 156.48 L461.5 155.39 L462.3 155.4 L462.4 155.68 L463.3 156.18 L464.2 155.78 L464.7 156.6 L465.1 156.6 L466.0 156.85 L466.9 156.18 L467.8 156.2 L468.7 156.47 L469.6 156.64 L470.5 156.46 L471.0 156.9 L471.4 157.1 L472.3 157.59 L473.2 158.14 L474.1 158.58 L475.0 158.8 L475.9 159.96 L476.8 160.56 L477.7 160.53 L477.8 161.0 L478.6 159.44 L479.5 157.69 L479.9 157.3 L480.4 156.73 L481.3 156.58 L482.2 156.15 L482.5 156.0 L483.1 156.06 L484.0 155.31 L484.9 155.28 L485.8 155.51 L486.7 155.33 L487.6 155.16 L488.0 155.2 L488.5 155.13 L489.4 154.83 L490.3 155.17 L491.2 154.98 L492.1 154.75 L493.0 154.48 L493.8 154.6 L493.9 154.59 L494.8 154.19 L495.7 155.08 L496.0 155.5 L496.6 155.91 L497.5 156.5 L498.3 160.6 L498.4 159.69 L499.2 156.5 L499.3 156.5 L500.2 155.93 L501.0 155.4 L501.1 154.96 L502.0 155.09 L502.9 154.86 L503.8 154.88 L504.7 154.72 L505.6 154.32 L506.5 153.86 L507.0 154.0 L507.4 154.42 L508.3 155.5 L509.2 156.95 L509.4 157.3 L510.1 157.44 L511.0 157.2 L511.9 156.79 L512.0 157.0 L512.8 155.47 L513.0 155.6 L513.7 155.49 L514.6 155.38 L515.5 155.27 L516.4 155.57 L516.5 155.6 L517.3 156.21 L518.2 157.25 L518.6 157.6 L519.1 157.28 L520.0 156.14 L520.7 155.6 L520.9 156.24 L521.8 155.2 L522.7 155.37 L523.6 154.83 L524.3 154.6 L524.5 154.98 L525.4 154.11 L526.3 154.78 L527.2 155.27 L528.1 155.56 L529.0 156.26 L529.2 155.6 L529.9 156.14 L530.8 157.0 L531.4 157.0 L531.7 157.05 L532.6 156.56 L533.5 155.89 L534.4 155.15 L534.9 154.9 L535.3 155.18 L536.2 154.99 L537.1 155.96 L537.7 155.8 L538.0 155.5 L538.9 155.9 L539.8 156.47 L540.7 155.79 L541.6 155.87 L542.5 156.23 L543.4 155.9 L544.3 156.49 L544.8 156.8 L545.2 157.04 L546.1 158.46 L546.2 158.5 L547.0 158.52 L547.9 158.38 L548.8 157.76 L549.7 158.35 L549.8 157.8 L550.6 158.81 L551.5 158.89 L552.0 159.2 L552.4 159.28 L553.3 159.07 L554.2 159.62 L555.2 159.2 L557 166.6 L559 165.8 L562.1 168.4 L563.9 185.7 L566 200.4 L567 200.7 L567.7 245 L568.1 264.2 L570.6 267.3 L572.3 266 L573.2 266 L575.4 283.3 L576.6 309.2 L577.5 330 L579.2 356 L581 381.9 L581.5 400.9 L582.7 383.6 L583.9 410.4 L585.3 387.1 L586.1 403.5 L587 387.1 L588.2 364.6 L590.1 324.8 L592.2 349 L593.9 343.8 L596.5 323.9 L598.3 324.8 L601.4 307.5 L602 314.4 L603.4 306.6 L605.2 319.6 L607.4 309.2 L608.3 310 L610.7 336 L612.1 323 L614.7 326.5 L617.6 334 L619.9 328.2 L622.8 317.9 L624.7 316.1 L626.8 307.5 L628.5 303.1 L630.3 290.2 L632 271.1 L632.5 260.8 L633.7 262.5 L635.4 242.9 L636.8 248 L638 242 L640.6 236.8 L642 239.4 L643.2 234.2 L645.4 229.9 L647 222.1 L648 191 L649.2 187.5 L650.4 181.4 L651.3 191 L652.7 216.9 L653.9 231.6 L654.8 235.1 L656 235.1 L657.5 237.7 L658.7 244.6 L660.1 248 L661.9 244.6 L663.4 237.7 L664.8 220.4 L666.2 231.6 L667.9 233.7 L669.6 232.5 L670.8 228.1 L672.1 216 L674 209.1 L675.2 206.5 L676.6 215.2 L677.8 203.9 L679 210 L680.7 206.5 L683 198.7 L685.6 199.6 L687.6 202.2 L688.7 211.7 L689.9 219.5 L691.6 215.2 L693.7 218.6 L695.9 225.6 L697.5 231.4 L699.5 250.4 L702.1 266.8 L704.7 282 L705.9 277.2 L707.6 275.4 L709 266.8 L710.4 270.3 L712 264.2 L714.2 261.1 L716.3 263.9 L718.5 260.7 L720.8 256.4 L722.5 250 L723.9 250 L725.1 258.1 L727.2 262.1 L728.4 260.7 L730.1 262.5 L731.5 258.1 L732.7 248.6 L733.8 246.6 L735.3 247.8 L736.7 250 L738 250.3 L738.8 254.7 L740.2 253 L741 254.7 L742.2 250 L743.6 251.2 L745.7 254.7 L748 256.4 L749.7 256.4 L750.6 253.8 L751.8 256.4 L752.8 248.6 L754 236.5 L756.1 236.5 L757.8 241.7 L758.9 232.2 L760.1 222.7 L761.3 227.9 L763 235.7 L764 237.4 L764.9 231.3 L766.1 239.1 L767.5 231.3 L768.7 232.2 L769.9 230.5 L771.3 228.7 L773 229.6 L774.8 227.9 L776.2 228.7 L777 233.1 L777.8 209.2 L779 193.6 L780.7 183.3 L782.5 176.3 L783.8 172.9 L785.6 176.3 L787 171.1 L788.7 166.5 L790.4 167.7 L792.5 171.1 L795.1 170.3 L797.3 169.1 L799.4 171.7 L801.5 171.7 L803.2 169.4 L804.6 167.7 L806 173.7 L807.2 173.7 L808.4 170.8 L809.8 171.1 L811.5 173.7 L813.3 175.5 L814.6 178.1 L816.4 176.3 L817.6 177.2 L819.3 179.8 L821.9 177.2 L824.5 174.6 L826.7 175.5 L828.8 178.1 L830.6 181.5 L833.1 182.4 L834.9 188.1 L836.6 181.2 L838.3 181.5 L840.1 182.4 L841.3 181.5 L842.7 183.3 L844.7 185.3 L846.1 185 L847.9 183.3 L849.2 185.3 L850.1 174.6 L851.3 167.7 L852.7 172 L853.9 170.3 L855.1 167.7" stroke="#16c784" clip-path="url(#up)"/></g>
<g clip-path="url(#plot)"><circle cx="855.1" cy="167.3" r="13.5" fill="url(#halo)"/></g><circle cx="855.1" cy="167.3" r="4.3" fill="#ea3943"/>
<text x="872.2" y="160.1" font-size="11.2" fill="#808a9d" stroke="#808a9d" stroke-width="0.3">1.000</text>
<text x="872.2" y="210.0" font-size="11.2" fill="#808a9d" stroke="#808a9d" stroke-width="0.3" letter-spacing="0.45">0.98</text>
<text x="872.2" y="260.9" font-size="11.2" fill="#808a9d" stroke="#808a9d" stroke-width="0.3" letter-spacing="0.45">0.96</text>
<text x="872.2" y="311.9" font-size="11.2" fill="#808a9d" stroke="#808a9d" stroke-width="0.3" letter-spacing="0.45">0.94</text>
<text x="872.2" y="362.9" font-size="11.2" fill="#808a9d" stroke="#808a9d" stroke-width="0.3" letter-spacing="0.45">0.92</text>
<text x="872.2" y="413.7" font-size="11.2" fill="#808a9d" stroke="#808a9d" stroke-width="0.3" letter-spacing="0.45">0.90</text>
<text x="872.2" y="464.0" font-size="11.2" fill="#808a9d" stroke="#808a9d" stroke-width="0.3" letter-spacing="0.45">0.88</text>
<rect x="863.3" y="158.2" width="38.6" height="18.5" fill="#ea3943"/>
<text x="872" y="171.1" font-size="11" fill="#fff" stroke="#fff" stroke-width="0.25" letter-spacing="-0.35">1.00</text>
<text x="16.9" y="161" font-size="11" fill="#808a9d" stroke="#808a9d" stroke-width="0.2">1.00</text>
<text x="57.2" y="506.2" font-size="11.3" font-weight="700" fill="#808a9d" text-anchor="middle">7</text>
<text x="177.7" y="506.2" font-size="11.3" font-weight="700" fill="#808a9d" text-anchor="middle">8</text>
<text x="298.3" y="506.2" font-size="11.3" font-weight="700" fill="#808a9d" text-anchor="middle">9</text>
<text x="418.6" y="506.2" font-size="11.3" font-weight="700" fill="#808a9d" text-anchor="middle">10</text>
<text x="539.6" y="506.2" font-size="11.3" font-weight="700" fill="#808a9d" text-anchor="middle">11</text>
<text x="661.4" y="506.2" font-size="11.3" font-weight="700" fill="#808a9d" text-anchor="middle">12</text>
<text x="782.7" y="506.2" font-size="11.3" font-weight="700" fill="#808a9d" text-anchor="middle">13</text>
<text x="873.6" y="504.9" font-size="12" font-weight="700" fill="#808a9d">USD</text>
<rect x="14" y="513.8" width="847.5" height="49.9" fill="#eef0fe"/>
<path d="M14 524.2 L16 523.9 L19 524.1 L22 523.9 L25 523.9 L28 524.1 L31 524.2 L34 524.0 L37 523.9 L40 524.1 L43 524.0 L46 524.0 L49 524.2 L52 524.2 L55 523.9 L58 524.3 L61 524.0 L64 524.1 L67 523.9 L70 524.0 L73 523.7 L76 524.3 L79 524.2 L82 523.8 L85 523.8 L88 523.8 L91 524.2 L94 523.9 L97 524.0 L100 524.0 L103 524.0 L106 523.8 L109 524.0 L112 523.8 L115 524.0 L118 524.0 L121 524.1 L124 524.0 L127 523.9 L130 524.0 L133 523.9 L136 524.2 L139 524.1 L142 524.0 L145 523.9 L148 523.9 L151 523.9 L154 523.9 L157 524.0 L160 524.1 L163 524.1 L166 524.3 L169 523.9 L172 524.0 L175 524.4 L178 523.7 L181 523.9 L184 524.0 L187 524.0 L190 524.1 L193 524.0 L196 524.1 L199 524.0 L202 524.1 L205 523.7 L208 523.9 L211 524.0 L214 523.8 L217 523.8 L220 524.1 L223 523.9 L226 524.1 L229 524.1 L232 524.0 L235 524.1 L238 524.0 L241 523.8 L244 524.0 L247 524.1 L250 523.9 L253 524.0 L256 524.1 L259 523.9 L262 524.1 L265 524.3 L268 523.9 L271 524.0 L274 524.0 L277 524.2 L280 524.0 L283 524.1 L286 523.9 L289 524.0 L292 524.0 L295 523.7 L298 524.2 L301 524.1 L304 523.7 L307 524.1 L310 524.0 L313 524.1 L316 524.1 L319 523.8 L322 524.0 L325 524.2 L328 523.9 L331 523.8 L334 523.8 L337 523.8 L340 524.1 L343 524.3 L346 524.1 L349 524.0 L352 524.3 L355 523.9 L358 523.9 L361 524.1 L364 524.1 L367 523.8 L370 523.8 L373 524.0 L376 524.0 L379 523.8 L382 524.0 L385 523.9 L388 524.1 L391 524.0 L394 524.0 L397 524.4 L400 524.7 L403 524.7 L406 524.4 L409 524.6 L412 524.4 L415 524.5 L418 524.6 L421 524.2 L424 523.9 L427 524.0 L430 524.0 L433 523.8 L436 524.0 L439 523.9 L442 524.1 L445 523.8 L448 523.7 L451 524.0 L454 524.0 L457 523.9 L460 524.1 L463 524.0 L466 523.9 L469 524.1 L472 523.8 L475 523.9 L478 524.0 L481 524.1 L484 524.0 L487 524.0 L490 523.9 L493 524.0 L496 524.2 L499 523.9 L502 524.4 L505 523.9 L508 524.0 L511 524.0 L514 524.2 L517 523.8 L520 523.7 L523 524.1 L526 524.1 L529 524.1 L532 524.4 L535 524.0 L538 524.0 L541 524.1 L544 524.1 L547 524.2 L550 523.8 L553 523.9 L560.2 524.6 L567.1 525.6 L572 530.1 L573.4 538 L578.3 539.4 L582.8 547.2 L586.7 556.4 L588 555.2 L589.3 557.6 L591.7 556.4 L594.6 546.8 L597.9 549.8 L602.5 546.6 L607.4 544.7 L609.5 545.6 L612.3 544.3 L615.6 547.8 L618.2 546.2 L623.1 547.8 L628 545.8 L633.9 543.3 L637.8 538.8 L641.7 536 L646.6 535 L651.5 533.9 L653.9 528.6 L655.8 528.2 L658.4 534 L662.3 535.4 L666.3 536.4 L669.2 535.4 L670.8 533.5 L672.7 534.8 L676.1 534.4 L680 531.1 L684.9 530.9 L689.8 529.7 L692.9 530.1 L695.9 532.5 L698.8 532.5 L702.8 534.4 L706.7 538.4 L710.6 540.9 L715.5 539.4 L721.4 538.4 L726.3 537.4 L729.3 536.4 L733.2 538 L737.1 538 L739.1 536 L745 536.8 L750.9 537 L755.8 537.6 L758.7 537.4 L760.7 534.8 L763.6 535.4 L766.2 533.5 L768.5 534.8 L772.5 535 L776.4 534.4 L780.3 534 L783.2 534 L785.2 529.5 L788.2 527 L792.1 526.2 L796 525.6 L803.9 525.8 L811.7 526 L817.6 526.6 L823.5 527 L831.3 526.6 L837.2 527.2 L842.1 528 L847 527.6 L852.9 527.8 L856.9 527.6 L858.4 525.6 L860.4 526 L862.4 525 L862.4 563.7 L14 563.7 Z" fill="#dfe3fb"/>
<line x1="59.6" x2="59.6" y1="513.8" y2="563.7" stroke="#cfd5f1" stroke-width="1"/>
<line x1="180.4" x2="180.4" y1="513.8" y2="563.7" stroke="#cfd5f1" stroke-width="1"/>
<line x1="301.4" x2="301.4" y1="513.8" y2="563.7" stroke="#cfd5f1" stroke-width="1"/>
<line x1="423.2" x2="423.2" y1="513.8" y2="563.7" stroke="#cfd5f1" stroke-width="1"/>
<line x1="544.6" x2="544.6" y1="513.8" y2="563.7" stroke="#cfd5f1" stroke-width="1"/>
<line x1="667.5" x2="667.5" y1="513.8" y2="563.7" stroke="#cfd5f1" stroke-width="1"/>
<line x1="788.5" x2="788.5" y1="513.8" y2="563.7" stroke="#cfd5f1" stroke-width="1"/>
<path d="M14 524.2 L16 523.9 L19 524.1 L22 523.9 L25 523.9 L28 524.1 L31 524.2 L34 524.0 L37 523.9 L40 524.1 L43 524.0 L46 524.0 L49 524.2 L52 524.2 L55 523.9 L58 524.3 L61 524.0 L64 524.1 L67 523.9 L70 524.0 L73 523.7 L76 524.3 L79 524.2 L82 523.8 L85 523.8 L88 523.8 L91 524.2 L94 523.9 L97 524.0 L100 524.0 L103 524.0 L106 523.8 L109 524.0 L112 523.8 L115 524.0 L118 524.0 L121 524.1 L124 524.0 L127 523.9 L130 524.0 L133 523.9 L136 524.2 L139 524.1 L142 524.0 L145 523.9 L148 523.9 L151 523.9 L154 523.9 L157 524.0 L160 524.1 L163 524.1 L166 524.3 L169 523.9 L172 524.0 L175 524.4 L178 523.7 L181 523.9 L184 524.0 L187 524.0 L190 524.1 L193 524.0 L196 524.1 L199 524.0 L202 524.1 L205 523.7 L208 523.9 L211 524.0 L214 523.8 L217 523.8 L220 524.1 L223 523.9 L226 524.1 L229 524.1 L232 524.0 L235 524.1 L238 524.0 L241 523.8 L244 524.0 L247 524.1 L250 523.9 L253 524.0 L256 524.1 L259 523.9 L262 524.1 L265 524.3 L268 523.9 L271 524.0 L274 524.0 L277 524.2 L280 524.0 L283 524.1 L286 523.9 L289 524.0 L292 524.0 L295 523.7 L298 524.2 L301 524.1 L304 523.7 L307 524.1 L310 524.0 L313 524.1 L316 524.1 L319 523.8 L322 524.0 L325 524.2 L328 523.9 L331 523.8 L334 523.8 L337 523.8 L340 524.1 L343 524.3 L346 524.1 L349 524.0 L352 524.3 L355 523.9 L358 523.9 L361 524.1 L364 524.1 L367 523.8 L370 523.8 L373 524.0 L376 524.0 L379 523.8 L382 524.0 L385 523.9 L388 524.1 L391 524.0 L394 524.0 L397 524.4 L400 524.7 L403 524.7 L406 524.4 L409 524.6 L412 524.4 L415 524.5 L418 524.6 L421 524.2 L424 523.9 L427 524.0 L430 524.0 L433 523.8 L436 524.0 L439 523.9 L442 524.1 L445 523.8 L448 523.7 L451 524.0 L454 524.0 L457 523.9 L460 524.1 L463 524.0 L466 523.9 L469 524.1 L472 523.8 L475 523.9 L478 524.0 L481 524.1 L484 524.0 L487 524.0 L490 523.9 L493 524.0 L496 524.2 L499 523.9 L502 524.4 L505 523.9 L508 524.0 L511 524.0 L514 524.2 L517 523.8 L520 523.7 L523 524.1 L526 524.1 L529 524.1 L532 524.4 L535 524.0 L538 524.0 L541 524.1 L544 524.1 L547 524.2 L550 523.8 L553 523.9 L560.2 524.6 L567.1 525.6 L572 530.1 L573.4 538 L578.3 539.4 L582.8 547.2 L586.7 556.4 L588 555.2 L589.3 557.6 L591.7 556.4 L594.6 546.8 L597.9 549.8 L602.5 546.6 L607.4 544.7 L609.5 545.6 L612.3 544.3 L615.6 547.8 L618.2 546.2 L623.1 547.8 L628 545.8 L633.9 543.3 L637.8 538.8 L641.7 536 L646.6 535 L651.5 533.9 L653.9 528.6 L655.8 528.2 L658.4 534 L662.3 535.4 L666.3 536.4 L669.2 535.4 L670.8 533.5 L672.7 534.8 L676.1 534.4 L680 531.1 L684.9 530.9 L689.8 529.7 L692.9 530.1 L695.9 532.5 L698.8 532.5 L702.8 534.4 L706.7 538.4 L710.6 540.9 L715.5 539.4 L721.4 538.4 L726.3 537.4 L729.3 536.4 L733.2 538 L737.1 538 L739.1 536 L745 536.8 L750.9 537 L755.8 537.6 L758.7 537.4 L760.7 534.8 L763.6 535.4 L766.2 533.5 L768.5 534.8 L772.5 535 L776.4 534.4 L780.3 534 L783.2 534 L785.2 529.5 L788.2 527 L792.1 526.2 L796 525.6 L803.9 525.8 L811.7 526 L817.6 526.6 L823.5 527 L831.3 526.6 L837.2 527.2 L842.1 528 L847 527.6 L852.9 527.8 L856.9 527.6 L858.4 525.6 L860.4 526 L862.4 525" fill="none" stroke="#5b7cf5" stroke-width="1.25" stroke-linejoin="round"/>
<text x="58.4" y="556" font-size="11.3" font-weight="700" fill="#808a9d" text-anchor="middle">7</text>
<text x="180.0" y="556" font-size="11.3" font-weight="700" fill="#808a9d" text-anchor="middle">8</text>
<text x="301.0" y="556" font-size="11.3" font-weight="700" fill="#808a9d" text-anchor="middle">9</text>
<text x="422.6" y="556" font-size="11.3" font-weight="700" fill="#808a9d" text-anchor="middle">10</text>
<text x="543.9" y="556" font-size="11.3" font-weight="700" fill="#808a9d" text-anchor="middle">11</text>
<text x="666.8" y="556" font-size="11.3" font-weight="700" fill="#808a9d" text-anchor="middle">12</text>
<text x="788.1" y="556" font-size="11.3" font-weight="700" fill="#808a9d" text-anchor="middle">13</text>
<defs><filter id="sh" x="-50%" y="-30%" width="200%" height="160%"><feDropShadow dx="0" dy="1" stdDeviation="1.2" flood-color="#586680" flood-opacity="0.2"/></filter></defs>
<rect x="9" y="527.4" width="10.4" height="19.3" rx="5" fill="#fff" filter="url(#sh)"/>
<path d="M13.3 533.3V540.4M15.5 533.3V540.4" stroke="#a6b0c3" stroke-width="1"/>
<rect x="856" y="527.6" width="10.4" height="19.3" rx="5" fill="#fff" filter="url(#sh)"/>
<path d="M859.9 533.6V540.4M862.3 533.6V540.4" stroke="#a6b0c3" stroke-width="1"/>
</svg>
</body>
</html>
